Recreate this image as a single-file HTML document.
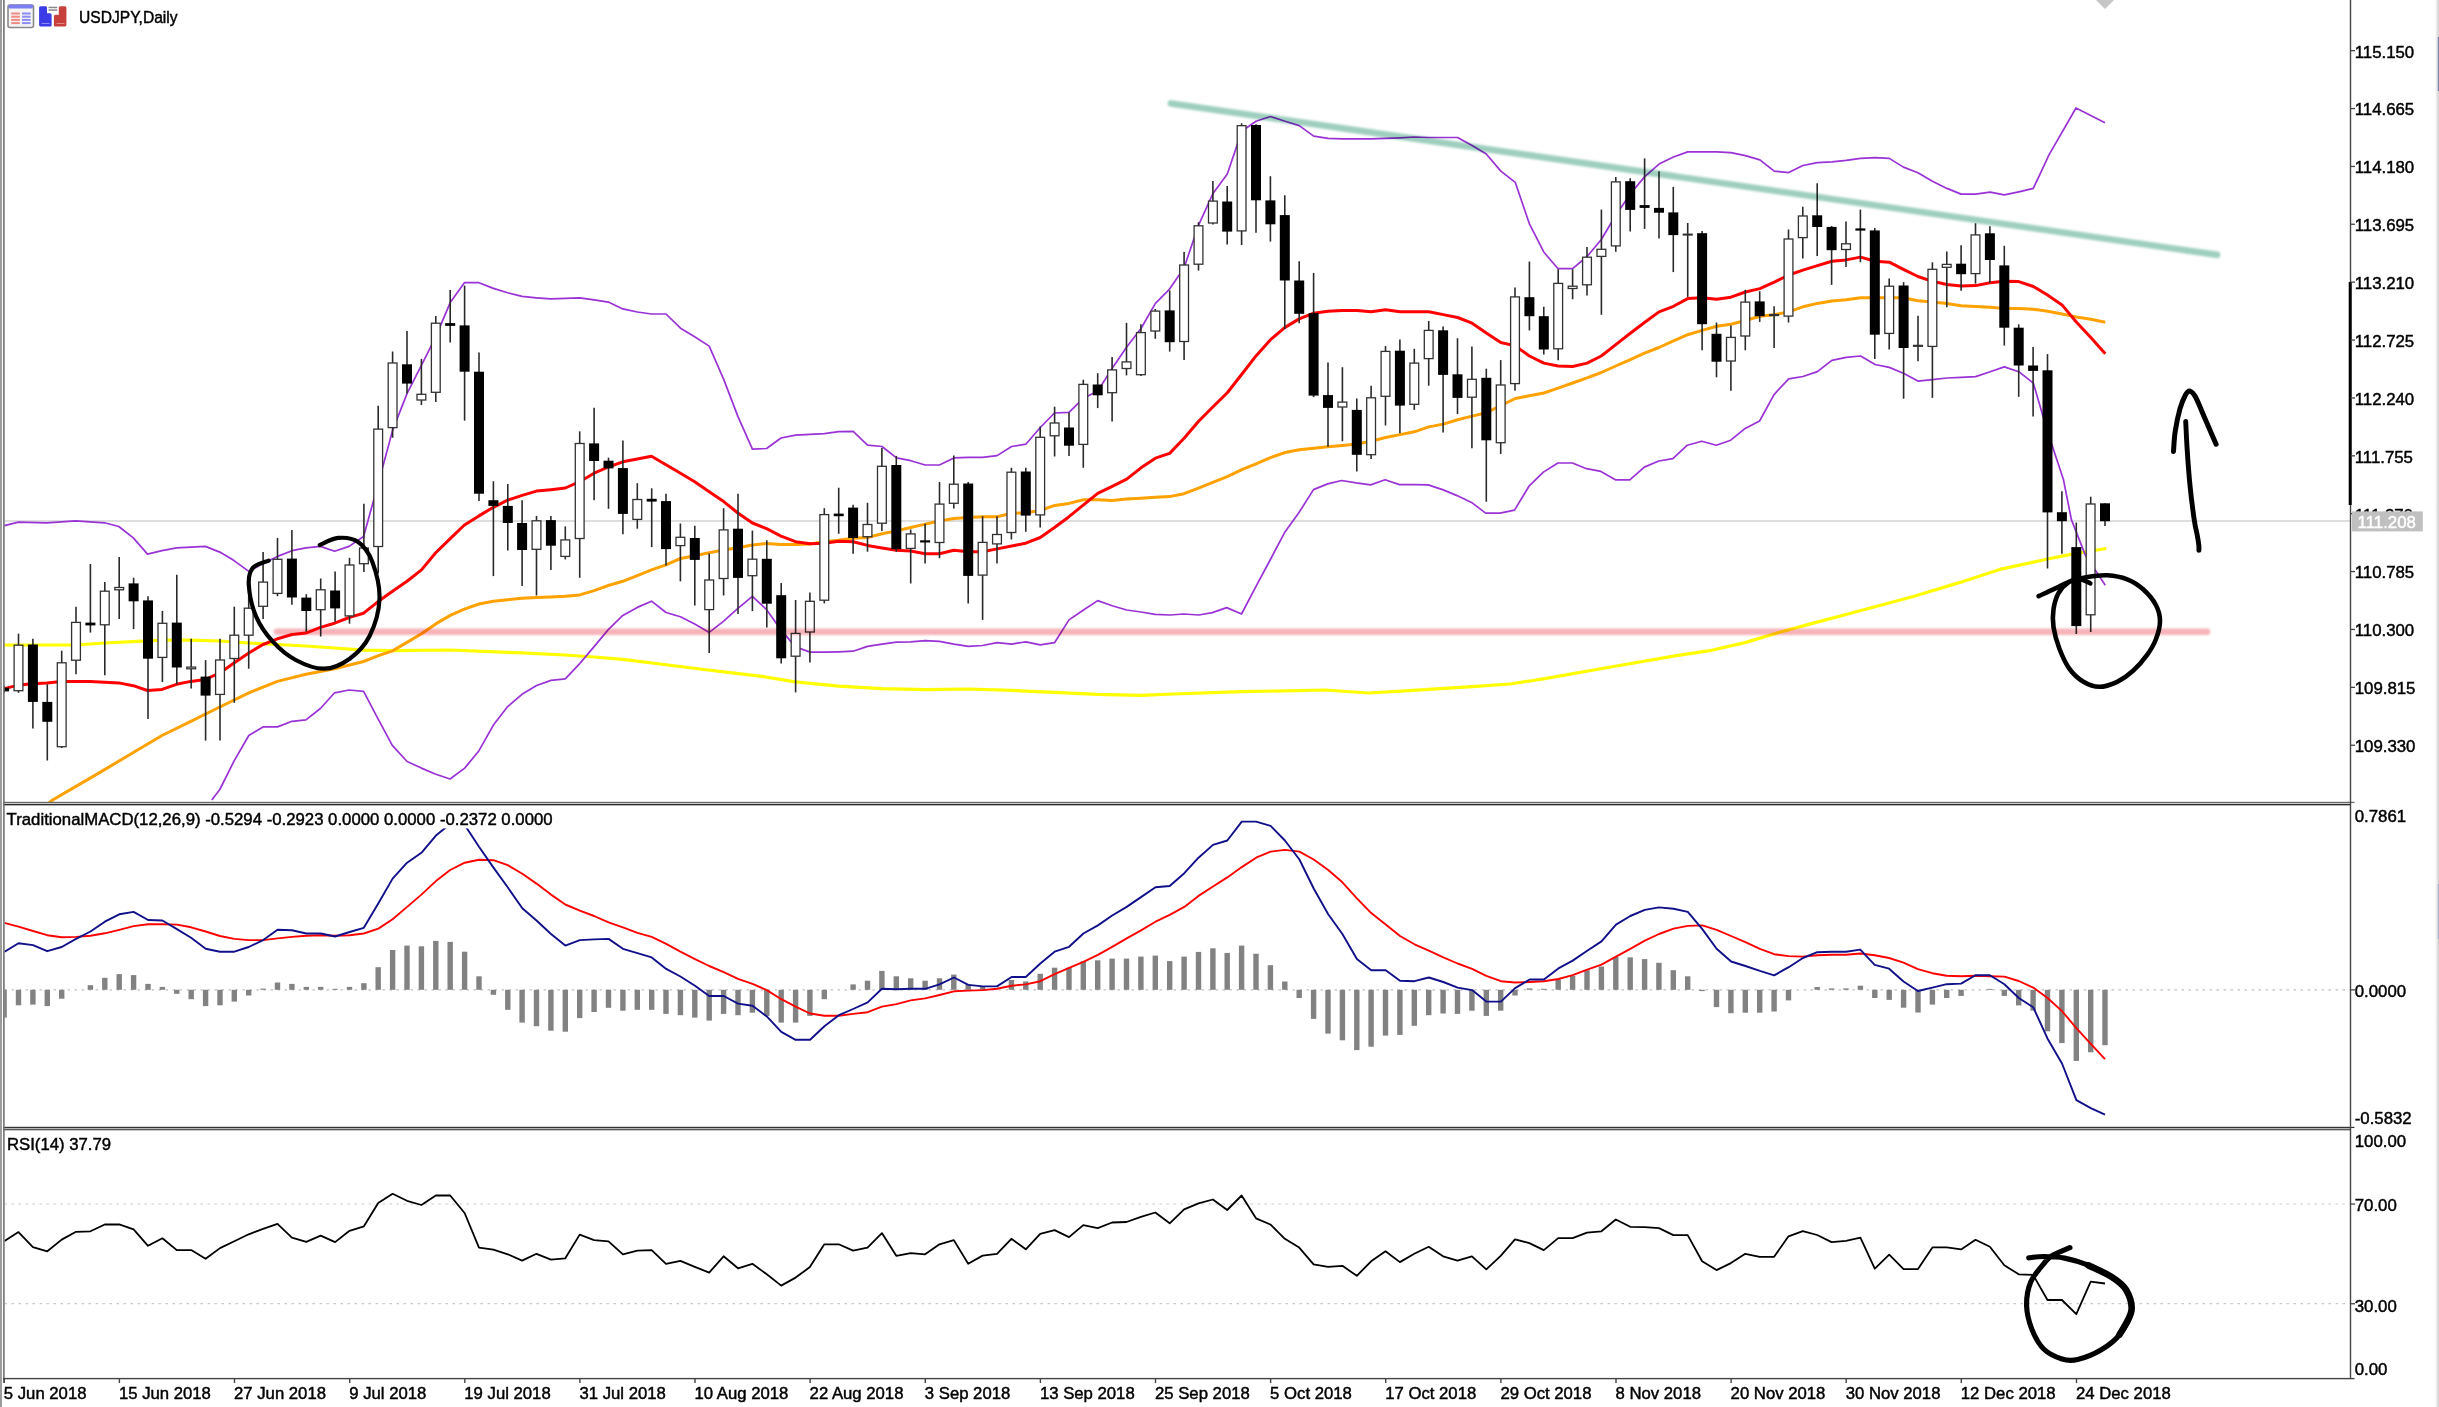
<!DOCTYPE html><html><head><meta charset="utf-8"><title>USDJPY,Daily</title><style>html,body{margin:0;padding:0;background:#fff}body{width:2439px;height:1407px;overflow:hidden;position:relative;font-family:"Liberation Sans",sans-serif}</style></head><body>
<svg width="2439" height="1407" viewBox="0 0 2439 1407" style="position:absolute;left:0;top:0;filter:blur(0.35px);font-family:'Liberation Sans',sans-serif;font-size:16.4px">
<defs><filter id="b1" filterUnits="userSpaceOnUse" x="0" y="0" width="2439" height="1407"><feGaussianBlur stdDeviation="0.9"/></filter><filter id="b0" x="-5%" y="-5%" width="110%" height="110%"><feGaussianBlur stdDeviation="0.45"/></filter></defs>
<rect width="2439" height="1407" fill="#fff"/>
<clipPath id="cm"><rect x="4.5" y="0" width="2346.0" height="802"/></clipPath>
<clipPath id="cd"><rect x="4.5" y="805" width="2346.0" height="322"/></clipPath>
<clipPath id="cr"><rect x="4.5" y="1130" width="2346.0" height="248"/></clipPath>
<rect x="4.5" y="520.4" width="2346.0" height="1.2" fill="#c9c9c9"/>
<g clip-path="url(#cm)">
<polyline points="4.3,645.0 75.6,645.0 104.6,643.0 133.0,641.6 162.0,640.2 190.8,640.2 219.8,641.0 248.8,643.0 277.5,644.5 305.9,646.0 334.6,648.0 363.6,650.2 392.3,650.7 450.0,650.0 522.0,652.9 565.0,655.0 594.0,657.0 622.8,659.4 660.0,664.0 700.0,669.0 730.0,672.6 760.0,676.2 795.5,681.9 838.7,686.2 882.0,688.7 925.2,689.6 968.4,689.0 1011.6,690.4 1054.5,692.4 1097.7,694.4 1141.0,695.3 1173.6,694.0 1240.9,691.7 1325.0,690.0 1368.6,693.0 1409.0,690.6 1476.0,686.3 1510.0,684.0 1543.4,678.9 1610.7,667.0 1678.0,655.3 1711.5,650.3 1745.0,642.6 1778.8,632.5 1812.4,623.4 1862.8,610.0 1913.3,596.5 1960.0,582.4 1999.8,569.4 2047.6,559.0 2076.2,553.4 2106.3,548.5" fill="none" stroke="#ffff00" stroke-width="3.2" stroke-linejoin="round" stroke-linecap="butt" />
<polyline points="38.0,812.0 52.6,800.0 75.6,786.6 104.6,769.6 133.3,752.5 162.0,735.5 190.8,721.3 219.8,707.0 248.8,692.8 277.5,681.4 305.9,674.3 334.6,668.7 363.6,661.5 377.8,655.9 392.5,650.9 407.0,642.4 421.5,633.8 435.7,623.9 450.2,615.4 464.4,609.1 478.9,604.0 493.4,601.2 507.6,599.7 522.1,598.3 536.4,597.5 550.9,596.9 565.4,596.3 579.6,594.9 594.1,590.6 608.3,585.5 622.8,581.3 637.3,575.6 651.5,569.9 666.0,564.8 680.5,558.5 694.7,555.7 709.2,552.8 723.7,550.0 737.9,547.7 752.4,545.1 766.6,543.4 781.0,544.6 795.5,544.6 810.0,544.0 824.3,541.7 838.7,540.3 853.2,538.3 867.5,537.5 882.0,533.8 896.5,530.9 910.7,527.5 925.2,524.1 939.4,521.0 953.9,518.4 968.4,517.6 982.6,516.7 997.1,516.7 1011.6,513.3 1025.8,512.8 1040.3,510.5 1054.5,505.4 1069.0,503.4 1083.5,499.7 1097.7,499.7 1112.2,500.5 1126.7,499.1 1141.0,498.3 1155.4,497.2 1169.6,496.6 1184.1,493.7 1198.6,488.1 1212.8,482.4 1227.3,476.7 1241.8,469.6 1256.0,463.9 1270.5,457.6 1285.0,452.5 1299.2,449.7 1313.7,448.3 1327.9,446.8 1342.4,445.4 1356.9,444.0 1371.1,441.2 1385.6,437.5 1400.1,434.6 1414.3,431.8 1428.8,426.9 1443.3,424.1 1457.6,419.8 1472.1,416.1 1486.3,412.7 1500.8,405.6 1515.3,398.5 1529.4,395.8 1543.9,393.0 1558.1,388.1 1572.6,383.0 1587.1,377.9 1601.3,372.5 1615.8,366.0 1630.3,359.7 1644.5,353.2 1659.0,347.5 1673.5,340.9 1687.7,334.7 1702.2,330.4 1716.7,326.2 1730.9,324.2 1745.4,320.5 1759.9,316.2 1774.2,314.8 1788.7,311.9 1802.9,306.8 1817.4,303.4 1831.9,301.1 1846.1,299.7 1860.6,297.7 1875.1,297.7 1889.3,297.7 1903.4,297.8 1917.9,300.7 1932.4,302.1 1946.9,303.5 1961.1,305.8 1975.6,306.4 1990.1,307.2 2004.3,308.4 2018.8,308.4 2033.3,309.2 2047.5,311.2 2062.0,314.0 2076.3,316.9 2090.8,319.2 2105.3,322.3" fill="none" stroke="#ffa200" stroke-width="3" stroke-linejoin="round" stroke-linecap="butt" />
<polyline points="4.3,525.7 18.5,522.2 46.9,522.8 75.6,520.8 104.6,522.8 118.8,526.5 133.3,537.9 147.5,554.1 162.0,550.7 176.5,547.8 205.3,546.4 219.8,552.1 234.0,560.6 248.8,571.4 263.0,563.5 277.5,556.4 292.0,550.7 305.9,547.8 320.4,546.4 334.6,551.2 349.1,546.4 363.6,536.5 377.8,485.3 392.5,430.6 407.0,393.6 421.5,365.2 435.7,336.8 450.2,302.6 464.4,282.7 478.9,282.7 493.4,288.4 507.6,292.7 522.1,296.4 536.4,297.8 550.9,298.9 565.4,298.4 579.6,297.8 594.1,299.8 608.3,302.1 622.8,308.9 637.3,312.0 651.5,314.0 666.0,314.0 680.5,328.2 694.7,336.8 709.2,346.1 723.7,379.4 737.9,416.4 752.4,449.1 766.6,448.5 781.0,438.0 795.5,435.1 810.0,434.3 824.3,433.7 838.7,431.7 853.2,431.4 867.5,445.1 882.0,446.5 896.5,457.9 910.7,460.7 925.2,465.0 939.4,465.0 953.9,457.9 968.4,457.3 982.6,457.3 997.1,455.6 1011.6,446.5 1025.8,444.2 1040.3,427.5 1054.5,413.0 1069.0,412.4 1083.5,398.2 1097.7,391.1 1112.2,368.3 1126.7,347.0 1141.0,328.5 1155.4,303.3 1169.6,289.1 1184.1,267.7 1198.6,225.1 1212.8,193.8 1227.3,173.9 1241.8,131.3 1256.0,121.3 1270.5,116.5 1285.0,121.3 1299.2,125.6 1313.7,136.1 1327.9,138.4 1342.4,138.9 1356.9,138.9 1371.1,138.9 1385.6,138.4 1400.1,137.8 1414.3,137.0 1428.8,137.5 1443.3,137.5 1457.6,137.5 1472.1,145.5 1486.3,154.0 1500.8,171.1 1515.3,182.4 1529.4,223.8 1543.9,252.2 1558.1,268.7 1572.6,268.7 1587.1,256.5 1601.3,239.5 1615.8,215.3 1630.3,194.0 1644.5,176.9 1659.0,164.1 1673.5,157.0 1687.7,151.9 1702.2,151.9 1716.7,151.9 1730.9,152.7 1745.4,155.6 1759.9,159.9 1774.2,171.2 1788.7,172.6 1802.9,165.5 1817.4,162.7 1831.9,161.8 1846.1,160.4 1860.6,158.4 1875.1,157.6 1889.3,158.4 1903.4,167.1 1917.9,172.7 1932.4,181.3 1946.9,188.4 1961.1,194.1 1975.6,194.1 1990.1,192.1 2004.3,194.9 2018.8,191.8 2033.3,188.4 2049.0,154.9 2076.0,108.0 2105.0,122.8" fill="none" stroke="#9a32d6" stroke-width="1.7" stroke-linejoin="round" stroke-linecap="butt" />
<polyline points="211.8,800.0 219.8,789.5 234.0,761.1 248.8,735.5 263.0,726.9 277.5,726.9 292.0,721.3 305.9,719.8 320.4,708.5 334.6,692.8 349.1,690.0 363.6,691.4 377.8,718.4 392.3,745.4 407.1,761.5 421.4,768.1 435.8,774.3 450.1,779.0 464.7,768.1 479.0,750.7 493.4,725.1 507.7,706.6 522.0,694.3 536.6,685.5 551.0,680.4 565.3,678.9 579.7,663.6 594.1,646.6 608.3,629.6 622.8,615.4 637.3,607.4 651.5,601.2 666.0,612.5 680.5,616.8 694.7,623.9 709.2,632.4 723.7,621.1 737.9,608.3 752.4,596.3 766.6,609.7 781.0,629.9 795.5,646.9 810.0,652.1 824.3,652.1 838.7,651.8 853.2,651.2 867.5,646.4 882.0,644.1 896.5,642.1 910.7,641.8 925.2,640.7 939.4,641.3 953.9,644.1 968.4,646.4 982.6,645.5 997.1,642.7 1011.6,644.1 1025.8,641.8 1040.3,644.9 1054.5,642.7 1069.0,619.9 1083.5,610.0 1097.7,600.6 1112.2,605.7 1126.7,610.0 1141.0,612.0 1155.1,614.3 1170.3,615.0 1183.7,614.0 1198.8,615.0 1212.3,612.6 1226.7,607.6 1241.5,614.0 1256.0,586.4 1270.4,559.5 1284.6,532.6 1299.0,512.5 1313.5,489.6 1327.6,483.9 1341.7,480.5 1356.2,482.9 1370.6,484.9 1385.1,479.8 1399.5,484.6 1414.0,484.6 1428.1,484.9 1442.6,489.6 1457.0,495.6 1471.5,502.4 1485.6,513.1 1500.1,513.1 1514.5,510.1 1529.0,486.2 1543.4,472.1 1557.9,463.0 1572.4,463.0 1586.5,468.7 1600.9,471.4 1615.4,479.8 1629.8,479.8 1644.3,467.1 1658.8,461.0 1672.9,458.7 1687.3,445.2 1701.8,441.2 1716.3,445.2 1730.7,440.2 1745.2,428.4 1759.6,421.0 1774.2,394.4 1788.7,378.8 1802.9,376.5 1817.4,371.6 1831.9,360.3 1846.1,357.4 1860.6,356.0 1875.1,364.5 1889.3,367.4 1903.4,373.2 1917.9,381.1 1932.4,379.7 1946.9,378.0 1961.1,377.4 1975.6,376.6 1990.1,371.7 2004.3,366.9 2018.8,371.7 2033.3,383.1 2047.5,431.4 2063.5,479.8 2071.4,519.6 2085.4,555.4 2095.3,570.3 2105.3,585.3" fill="none" stroke="#9a32d6" stroke-width="1.7" stroke-linejoin="round" stroke-linecap="butt" />
<polyline points="4.3,688.6 18.5,685.1 32.7,683.7 46.9,682.9 61.4,681.4 75.6,681.4 90.1,681.4 104.6,682.3 118.8,682.9 133.3,685.7 147.5,690.5 162.0,689.4 176.5,684.3 190.8,681.4 205.3,679.5 219.8,672.9 234.0,663.0 248.8,653.0 263.0,644.5 277.5,638.8 292.0,634.5 305.9,633.1 320.4,627.4 334.6,623.2 349.1,617.5 363.6,613.2 377.8,601.8 392.5,591.2 407.0,581.3 421.5,569.9 435.7,552.8 450.2,538.6 464.4,525.0 478.9,515.9 493.4,507.3 507.6,500.2 522.1,495.4 536.4,491.1 550.9,489.7 565.4,488.0 579.6,481.7 594.1,473.2 608.3,467.0 622.8,461.8 637.3,459.0 651.5,456.2 666.0,464.7 680.5,473.2 694.7,481.7 709.2,491.7 723.7,501.6 737.9,513.0 752.4,523.0 766.6,528.7 781.0,536.1 795.5,541.7 810.0,543.7 824.3,543.2 838.7,541.2 853.2,541.7 867.5,545.4 882.0,548.0 896.5,550.3 910.7,551.1 925.2,553.7 939.4,553.7 953.9,550.3 968.4,551.7 982.6,551.7 997.1,548.9 1011.6,546.0 1025.8,543.2 1040.3,537.5 1054.5,527.5 1069.0,516.7 1083.5,504.8 1097.7,493.4 1112.2,486.3 1126.7,479.2 1141.0,467.8 1155.4,458.2 1169.6,453.4 1184.1,438.3 1198.6,421.3 1212.8,407.0 1227.3,392.8 1241.8,374.3 1256.0,355.9 1270.5,339.7 1285.0,327.4 1299.2,318.9 1313.7,313.2 1327.9,311.2 1342.4,310.4 1356.9,310.4 1371.1,311.8 1385.6,309.8 1400.1,311.8 1414.3,311.8 1428.8,311.8 1443.3,314.6 1457.6,317.5 1472.1,323.2 1486.3,333.1 1500.8,342.5 1515.3,345.9 1529.4,356.0 1543.9,363.1 1558.1,366.0 1572.6,366.5 1587.1,363.1 1601.3,356.0 1615.8,344.6 1630.3,333.3 1644.5,322.5 1659.0,311.9 1673.5,306.3 1687.7,298.6 1702.2,297.7 1716.7,299.2 1730.9,297.2 1745.4,292.0 1759.9,288.6 1774.2,282.1 1788.7,275.0 1802.9,270.2 1817.4,265.6 1831.9,261.3 1846.1,259.9 1860.6,257.1 1875.1,261.3 1889.3,262.2 1903.4,269.4 1917.9,276.5 1932.4,281.3 1946.9,284.5 1961.1,285.9 1975.6,285.6 1990.1,282.8 2004.3,281.3 2018.8,281.6 2033.3,286.5 2047.5,295.0 2062.0,304.9 2076.3,322.0 2090.8,337.6 2105.3,353.8" fill="none" stroke="#ff0000" stroke-width="3" stroke-linejoin="round" stroke-linecap="butt" />
<g filter="url(#b0)">
<line x1="4.1" y1="685.7" x2="4.1" y2="692.8" stroke="#2a2a2a" stroke-width="1.6"/>
<rect x="-0.9" y="687.7" width="10" height="3.7" fill="#000"/>
<line x1="18.5" y1="633.7" x2="18.5" y2="692.8" stroke="#2a2a2a" stroke-width="1.6"/>
<rect x="14.1" y="645.2" width="8.8" height="45.5" fill="#fff" stroke="#333" stroke-width="1.3"/>
<line x1="32.9" y1="638.8" x2="32.9" y2="728.4" stroke="#2a2a2a" stroke-width="1.6"/>
<rect x="27.9" y="644.5" width="10" height="57.4" fill="#000"/>
<line x1="47.3" y1="684.3" x2="47.3" y2="760.5" stroke="#2a2a2a" stroke-width="1.6"/>
<rect x="42.3" y="701.9" width="10" height="19.9" fill="#000"/>
<line x1="61.7" y1="650.7" x2="61.7" y2="748.0" stroke="#2a2a2a" stroke-width="1.6"/>
<rect x="57.3" y="662.8" width="8.8" height="83.9" fill="#fff" stroke="#333" stroke-width="1.3"/>
<line x1="76.0" y1="606.7" x2="76.0" y2="674.3" stroke="#2a2a2a" stroke-width="1.6"/>
<rect x="71.6" y="622.4" width="8.8" height="37.8" fill="#fff" stroke="#333" stroke-width="1.3"/>
<line x1="90.4" y1="564.0" x2="90.4" y2="632.6" stroke="#2a2a2a" stroke-width="1.6"/>
<rect x="85.4" y="622.6" width="10" height="2.8" fill="#000"/>
<line x1="104.8" y1="581.9" x2="104.8" y2="675.2" stroke="#2a2a2a" stroke-width="1.6"/>
<rect x="100.4" y="591.2" width="8.8" height="33.6" fill="#fff" stroke="#333" stroke-width="1.3"/>
<line x1="119.2" y1="556.9" x2="119.2" y2="618.9" stroke="#2a2a2a" stroke-width="1.6"/>
<rect x="114.8" y="587.5" width="8.8" height="2.3" fill="#fff" stroke="#333" stroke-width="1.3"/>
<line x1="133.6" y1="577.7" x2="133.6" y2="629.1" stroke="#2a2a2a" stroke-width="1.6"/>
<rect x="128.6" y="583.4" width="10" height="17.9" fill="#000"/>
<line x1="148.0" y1="596.2" x2="148.0" y2="719.0" stroke="#2a2a2a" stroke-width="1.6"/>
<rect x="143.0" y="600.4" width="10" height="58.3" fill="#000"/>
<line x1="162.4" y1="610.9" x2="162.4" y2="682.0" stroke="#2a2a2a" stroke-width="1.6"/>
<rect x="158.0" y="623.3" width="8.8" height="34.1" fill="#fff" stroke="#333" stroke-width="1.3"/>
<line x1="176.8" y1="574.8" x2="176.8" y2="684.3" stroke="#2a2a2a" stroke-width="1.6"/>
<rect x="171.8" y="622.6" width="10" height="44.9" fill="#000"/>
<line x1="191.2" y1="638.8" x2="191.2" y2="688.6" stroke="#2a2a2a" stroke-width="1.6"/>
<rect x="186.8" y="667.1" width="8.8" height="1.7" fill="#fff" stroke="#333" stroke-width="1.3"/>
<line x1="205.6" y1="660.1" x2="205.6" y2="740.6" stroke="#2a2a2a" stroke-width="1.6"/>
<rect x="200.6" y="676.6" width="10" height="19.0" fill="#000"/>
<line x1="220.0" y1="638.8" x2="220.0" y2="740.6" stroke="#2a2a2a" stroke-width="1.6"/>
<rect x="215.6" y="660.0" width="8.8" height="34.4" fill="#fff" stroke="#333" stroke-width="1.3"/>
<line x1="234.3" y1="606.7" x2="234.3" y2="702.8" stroke="#2a2a2a" stroke-width="1.6"/>
<rect x="229.9" y="635.2" width="8.8" height="23.3" fill="#fff" stroke="#333" stroke-width="1.3"/>
<line x1="248.7" y1="596.2" x2="248.7" y2="668.7" stroke="#2a2a2a" stroke-width="1.6"/>
<rect x="244.3" y="608.2" width="8.8" height="27.0" fill="#fff" stroke="#333" stroke-width="1.3"/>
<line x1="263.1" y1="552.1" x2="263.1" y2="618.9" stroke="#2a2a2a" stroke-width="1.6"/>
<rect x="258.7" y="582.1" width="8.8" height="24.2" fill="#fff" stroke="#333" stroke-width="1.3"/>
<line x1="277.5" y1="537.9" x2="277.5" y2="596.2" stroke="#2a2a2a" stroke-width="1.6"/>
<rect x="273.1" y="559.3" width="8.8" height="34.1" fill="#fff" stroke="#333" stroke-width="1.3"/>
<line x1="291.9" y1="529.9" x2="291.9" y2="604.7" stroke="#2a2a2a" stroke-width="1.6"/>
<rect x="286.9" y="558.6" width="10" height="38.9" fill="#000"/>
<line x1="306.3" y1="594.2" x2="306.3" y2="631.7" stroke="#2a2a2a" stroke-width="1.6"/>
<rect x="301.3" y="597.6" width="10" height="13.4" fill="#000"/>
<line x1="320.7" y1="578.5" x2="320.7" y2="636.5" stroke="#2a2a2a" stroke-width="1.6"/>
<rect x="316.3" y="589.8" width="8.8" height="19.9" fill="#fff" stroke="#333" stroke-width="1.3"/>
<line x1="335.1" y1="571.4" x2="335.1" y2="621.7" stroke="#2a2a2a" stroke-width="1.6"/>
<rect x="330.1" y="590.5" width="10" height="17.9" fill="#000"/>
<line x1="349.5" y1="557.8" x2="349.5" y2="623.7" stroke="#2a2a2a" stroke-width="1.6"/>
<rect x="345.1" y="565.0" width="8.8" height="50.9" fill="#fff" stroke="#333" stroke-width="1.3"/>
<line x1="363.9" y1="503.8" x2="363.9" y2="572.0" stroke="#2a2a2a" stroke-width="1.6"/>
<rect x="359.5" y="548.0" width="8.8" height="15.7" fill="#fff" stroke="#333" stroke-width="1.3"/>
<line x1="378.2" y1="405.7" x2="378.2" y2="573.4" stroke="#2a2a2a" stroke-width="1.6"/>
<rect x="373.8" y="429.1" width="8.8" height="117.4" fill="#fff" stroke="#333" stroke-width="1.3"/>
<line x1="392.6" y1="351.5" x2="392.6" y2="437.7" stroke="#2a2a2a" stroke-width="1.6"/>
<rect x="388.2" y="363.0" width="8.8" height="64.6" fill="#fff" stroke="#333" stroke-width="1.3"/>
<line x1="407.0" y1="331.1" x2="407.0" y2="393.6" stroke="#2a2a2a" stroke-width="1.6"/>
<rect x="402.0" y="364.3" width="10" height="19.3" fill="#000"/>
<line x1="421.4" y1="358.9" x2="421.4" y2="405.0" stroke="#2a2a2a" stroke-width="1.6"/>
<rect x="417.0" y="394.3" width="8.8" height="5.7" fill="#fff" stroke="#333" stroke-width="1.3"/>
<line x1="435.8" y1="316.0" x2="435.8" y2="402.1" stroke="#2a2a2a" stroke-width="1.6"/>
<rect x="431.4" y="323.2" width="8.8" height="69.1" fill="#fff" stroke="#333" stroke-width="1.3"/>
<line x1="450.2" y1="289.9" x2="450.2" y2="342.4" stroke="#2a2a2a" stroke-width="1.6"/>
<rect x="445.2" y="323.1" width="10" height="2.8" fill="#000"/>
<line x1="464.6" y1="285.6" x2="464.6" y2="420.6" stroke="#2a2a2a" stroke-width="1.6"/>
<rect x="459.6" y="325.4" width="10" height="46.3" fill="#000"/>
<line x1="479.0" y1="352.4" x2="479.0" y2="501.1" stroke="#2a2a2a" stroke-width="1.6"/>
<rect x="474.0" y="371.7" width="10" height="122.0" fill="#000"/>
<line x1="493.4" y1="481.2" x2="493.4" y2="576.1" stroke="#2a2a2a" stroke-width="1.6"/>
<rect x="488.4" y="500.2" width="10" height="5.7" fill="#000"/>
<line x1="507.8" y1="484.0" x2="507.8" y2="550.5" stroke="#2a2a2a" stroke-width="1.6"/>
<rect x="502.8" y="505.9" width="10" height="17.1" fill="#000"/>
<line x1="522.1" y1="500.2" x2="522.1" y2="586.1" stroke="#2a2a2a" stroke-width="1.6"/>
<rect x="517.1" y="523.0" width="10" height="27.0" fill="#000"/>
<line x1="536.5" y1="515.9" x2="536.5" y2="595.5" stroke="#2a2a2a" stroke-width="1.6"/>
<rect x="532.1" y="520.8" width="8.8" height="28.5" fill="#fff" stroke="#333" stroke-width="1.3"/>
<line x1="550.9" y1="515.9" x2="550.9" y2="569.9" stroke="#2a2a2a" stroke-width="1.6"/>
<rect x="545.9" y="520.1" width="10" height="25.6" fill="#000"/>
<line x1="565.3" y1="526.4" x2="565.3" y2="559.4" stroke="#2a2a2a" stroke-width="1.6"/>
<rect x="560.9" y="539.9" width="8.8" height="16.5" fill="#fff" stroke="#333" stroke-width="1.3"/>
<line x1="579.7" y1="431.4" x2="579.7" y2="577.8" stroke="#2a2a2a" stroke-width="1.6"/>
<rect x="575.3" y="443.5" width="8.8" height="95.0" fill="#fff" stroke="#333" stroke-width="1.3"/>
<line x1="594.1" y1="407.8" x2="594.1" y2="500.2" stroke="#2a2a2a" stroke-width="1.6"/>
<rect x="589.1" y="443.4" width="10" height="17.6" fill="#000"/>
<line x1="608.5" y1="457.6" x2="608.5" y2="508.8" stroke="#2a2a2a" stroke-width="1.6"/>
<rect x="603.5" y="460.7" width="10" height="7.7" fill="#000"/>
<line x1="622.9" y1="440.5" x2="622.9" y2="534.3" stroke="#2a2a2a" stroke-width="1.6"/>
<rect x="617.9" y="468.1" width="10" height="45.8" fill="#000"/>
<line x1="637.3" y1="483.2" x2="637.3" y2="528.7" stroke="#2a2a2a" stroke-width="1.6"/>
<rect x="632.9" y="499.5" width="8.8" height="19.9" fill="#fff" stroke="#333" stroke-width="1.3"/>
<line x1="651.7" y1="488.3" x2="651.7" y2="547.1" stroke="#2a2a2a" stroke-width="1.6"/>
<rect x="646.7" y="498.8" width="10" height="2.8" fill="#000"/>
<line x1="666.0" y1="493.7" x2="666.0" y2="565.6" stroke="#2a2a2a" stroke-width="1.6"/>
<rect x="661.0" y="501.1" width="10" height="48.0" fill="#000"/>
<line x1="680.4" y1="523.5" x2="680.4" y2="581.3" stroke="#2a2a2a" stroke-width="1.6"/>
<rect x="676.0" y="537.3" width="8.8" height="8.3" fill="#fff" stroke="#333" stroke-width="1.3"/>
<line x1="694.8" y1="525.8" x2="694.8" y2="605.4" stroke="#2a2a2a" stroke-width="1.6"/>
<rect x="689.8" y="538.0" width="10" height="21.9" fill="#000"/>
<line x1="709.2" y1="553.4" x2="709.2" y2="652.9" stroke="#2a2a2a" stroke-width="1.6"/>
<rect x="704.8" y="580.0" width="8.8" height="29.6" fill="#fff" stroke="#333" stroke-width="1.3"/>
<line x1="723.6" y1="508.2" x2="723.6" y2="595.5" stroke="#2a2a2a" stroke-width="1.6"/>
<rect x="719.2" y="529.9" width="8.8" height="48.6" fill="#fff" stroke="#333" stroke-width="1.3"/>
<line x1="738.0" y1="493.7" x2="738.0" y2="613.9" stroke="#2a2a2a" stroke-width="1.6"/>
<rect x="733.0" y="528.7" width="10" height="49.2" fill="#000"/>
<line x1="752.4" y1="530.6" x2="752.4" y2="611.1" stroke="#2a2a2a" stroke-width="1.6"/>
<rect x="748.0" y="559.2" width="8.8" height="16.5" fill="#fff" stroke="#333" stroke-width="1.3"/>
<line x1="766.8" y1="540.3" x2="766.8" y2="627.6" stroke="#2a2a2a" stroke-width="1.6"/>
<rect x="761.8" y="558.8" width="10" height="44.9" fill="#000"/>
<line x1="781.2" y1="583.0" x2="781.2" y2="663.4" stroke="#2a2a2a" stroke-width="1.6"/>
<rect x="776.2" y="595.2" width="10" height="63.1" fill="#000"/>
<line x1="795.6" y1="600.0" x2="795.6" y2="692.4" stroke="#2a2a2a" stroke-width="1.6"/>
<rect x="791.2" y="633.4" width="8.8" height="22.8" fill="#fff" stroke="#333" stroke-width="1.3"/>
<line x1="809.9" y1="592.4" x2="809.9" y2="662.6" stroke="#2a2a2a" stroke-width="1.6"/>
<rect x="805.5" y="601.3" width="8.8" height="30.7" fill="#fff" stroke="#333" stroke-width="1.3"/>
<line x1="824.3" y1="508.2" x2="824.3" y2="603.4" stroke="#2a2a2a" stroke-width="1.6"/>
<rect x="819.9" y="514.6" width="8.8" height="85.6" fill="#fff" stroke="#333" stroke-width="1.3"/>
<line x1="838.7" y1="487.7" x2="838.7" y2="533.8" stroke="#2a2a2a" stroke-width="1.6"/>
<rect x="833.7" y="513.6" width="10" height="2.6" fill="#000"/>
<line x1="853.1" y1="504.8" x2="853.1" y2="553.7" stroke="#2a2a2a" stroke-width="1.6"/>
<rect x="848.1" y="507.6" width="10" height="30.4" fill="#000"/>
<line x1="867.5" y1="502.8" x2="867.5" y2="551.7" stroke="#2a2a2a" stroke-width="1.6"/>
<rect x="863.1" y="524.5" width="8.8" height="12.2" fill="#fff" stroke="#333" stroke-width="1.3"/>
<line x1="881.9" y1="447.9" x2="881.9" y2="530.9" stroke="#2a2a2a" stroke-width="1.6"/>
<rect x="877.5" y="466.3" width="8.8" height="56.9" fill="#fff" stroke="#333" stroke-width="1.3"/>
<line x1="896.3" y1="455.9" x2="896.3" y2="551.7" stroke="#2a2a2a" stroke-width="1.6"/>
<rect x="891.3" y="465.0" width="10" height="84.2" fill="#000"/>
<line x1="910.7" y1="529.5" x2="910.7" y2="583.5" stroke="#2a2a2a" stroke-width="1.6"/>
<rect x="906.3" y="533.9" width="8.8" height="14.5" fill="#fff" stroke="#333" stroke-width="1.3"/>
<line x1="925.1" y1="523.8" x2="925.1" y2="563.6" stroke="#2a2a2a" stroke-width="1.6"/>
<rect x="920.1" y="540.3" width="10" height="2.2" fill="#000"/>
<line x1="939.5" y1="482.0" x2="939.5" y2="558.2" stroke="#2a2a2a" stroke-width="1.6"/>
<rect x="935.1" y="504.1" width="8.8" height="38.4" fill="#fff" stroke="#333" stroke-width="1.3"/>
<line x1="953.8" y1="455.6" x2="953.8" y2="508.5" stroke="#2a2a2a" stroke-width="1.6"/>
<rect x="949.4" y="484.2" width="8.8" height="19.1" fill="#fff" stroke="#333" stroke-width="1.3"/>
<line x1="968.2" y1="482.0" x2="968.2" y2="603.4" stroke="#2a2a2a" stroke-width="1.6"/>
<rect x="963.2" y="483.5" width="10" height="92.4" fill="#000"/>
<line x1="982.6" y1="516.2" x2="982.6" y2="619.9" stroke="#2a2a2a" stroke-width="1.6"/>
<rect x="978.2" y="542.4" width="8.8" height="32.7" fill="#fff" stroke="#333" stroke-width="1.3"/>
<line x1="997.0" y1="516.2" x2="997.0" y2="563.6" stroke="#2a2a2a" stroke-width="1.6"/>
<rect x="992.6" y="534.5" width="8.8" height="9.4" fill="#fff" stroke="#333" stroke-width="1.3"/>
<line x1="1011.4" y1="467.8" x2="1011.4" y2="539.5" stroke="#2a2a2a" stroke-width="1.6"/>
<rect x="1007.0" y="472.2" width="8.8" height="60.3" fill="#fff" stroke="#333" stroke-width="1.3"/>
<line x1="1025.8" y1="467.8" x2="1025.8" y2="531.8" stroke="#2a2a2a" stroke-width="1.6"/>
<rect x="1020.8" y="471.5" width="10" height="44.1" fill="#000"/>
<line x1="1040.2" y1="426.6" x2="1040.2" y2="527.5" stroke="#2a2a2a" stroke-width="1.6"/>
<rect x="1035.8" y="437.3" width="8.8" height="77.6" fill="#fff" stroke="#333" stroke-width="1.3"/>
<line x1="1054.6" y1="406.7" x2="1054.6" y2="456.5" stroke="#2a2a2a" stroke-width="1.6"/>
<rect x="1050.2" y="423.0" width="8.8" height="12.8" fill="#fff" stroke="#333" stroke-width="1.3"/>
<line x1="1069.0" y1="412.4" x2="1069.0" y2="455.9" stroke="#2a2a2a" stroke-width="1.6"/>
<rect x="1064.0" y="427.5" width="10" height="18.2" fill="#000"/>
<line x1="1083.3" y1="379.7" x2="1083.3" y2="467.8" stroke="#2a2a2a" stroke-width="1.6"/>
<rect x="1078.9" y="384.4" width="8.8" height="60.0" fill="#fff" stroke="#333" stroke-width="1.3"/>
<line x1="1097.7" y1="373.2" x2="1097.7" y2="408.1" stroke="#2a2a2a" stroke-width="1.6"/>
<rect x="1092.7" y="384.5" width="10" height="10.8" fill="#000"/>
<line x1="1112.1" y1="357.0" x2="1112.1" y2="421.5" stroke="#2a2a2a" stroke-width="1.6"/>
<rect x="1107.7" y="369.9" width="8.8" height="22.8" fill="#fff" stroke="#333" stroke-width="1.3"/>
<line x1="1126.5" y1="322.8" x2="1126.5" y2="375.4" stroke="#2a2a2a" stroke-width="1.6"/>
<rect x="1122.1" y="361.9" width="8.8" height="6.6" fill="#fff" stroke="#333" stroke-width="1.3"/>
<line x1="1140.9" y1="324.3" x2="1140.9" y2="376.0" stroke="#2a2a2a" stroke-width="1.6"/>
<rect x="1136.5" y="332.6" width="8.8" height="42.1" fill="#fff" stroke="#333" stroke-width="1.3"/>
<line x1="1155.3" y1="309.0" x2="1155.3" y2="338.8" stroke="#2a2a2a" stroke-width="1.6"/>
<rect x="1150.9" y="311.1" width="8.8" height="19.9" fill="#fff" stroke="#333" stroke-width="1.3"/>
<line x1="1169.7" y1="290.5" x2="1169.7" y2="351.6" stroke="#2a2a2a" stroke-width="1.6"/>
<rect x="1164.7" y="310.4" width="10" height="31.8" fill="#000"/>
<line x1="1184.1" y1="252.1" x2="1184.1" y2="360.1" stroke="#2a2a2a" stroke-width="1.6"/>
<rect x="1179.7" y="265.0" width="8.8" height="76.5" fill="#fff" stroke="#333" stroke-width="1.3"/>
<line x1="1198.5" y1="222.2" x2="1198.5" y2="270.6" stroke="#2a2a2a" stroke-width="1.6"/>
<rect x="1194.1" y="225.8" width="8.8" height="38.4" fill="#fff" stroke="#333" stroke-width="1.3"/>
<line x1="1212.9" y1="181.0" x2="1212.9" y2="224.5" stroke="#2a2a2a" stroke-width="1.6"/>
<rect x="1208.5" y="201.1" width="8.8" height="21.9" fill="#fff" stroke="#333" stroke-width="1.3"/>
<line x1="1227.2" y1="186.1" x2="1227.2" y2="244.4" stroke="#2a2a2a" stroke-width="1.6"/>
<rect x="1222.2" y="201.5" width="10" height="30.1" fill="#000"/>
<line x1="1241.6" y1="123.3" x2="1241.6" y2="245.0" stroke="#2a2a2a" stroke-width="1.6"/>
<rect x="1237.2" y="125.7" width="8.8" height="105.2" fill="#fff" stroke="#333" stroke-width="1.3"/>
<line x1="1256.0" y1="124.2" x2="1256.0" y2="232.8" stroke="#2a2a2a" stroke-width="1.6"/>
<rect x="1251.0" y="125.0" width="10" height="75.3" fill="#000"/>
<line x1="1270.4" y1="176.2" x2="1270.4" y2="241.6" stroke="#2a2a2a" stroke-width="1.6"/>
<rect x="1265.4" y="200.4" width="10" height="23.9" fill="#000"/>
<line x1="1284.8" y1="195.2" x2="1284.8" y2="328.9" stroke="#2a2a2a" stroke-width="1.6"/>
<rect x="1279.8" y="215.1" width="10" height="65.4" fill="#000"/>
<line x1="1299.2" y1="261.2" x2="1299.2" y2="323.2" stroke="#2a2a2a" stroke-width="1.6"/>
<rect x="1294.2" y="280.5" width="10" height="33.3" fill="#000"/>
<line x1="1313.6" y1="272.9" x2="1313.6" y2="397.1" stroke="#2a2a2a" stroke-width="1.6"/>
<rect x="1308.6" y="313.2" width="10" height="82.4" fill="#000"/>
<line x1="1328.0" y1="362.4" x2="1328.0" y2="446.8" stroke="#2a2a2a" stroke-width="1.6"/>
<rect x="1323.0" y="395.1" width="10" height="12.8" fill="#000"/>
<line x1="1342.4" y1="367.2" x2="1342.4" y2="441.2" stroke="#2a2a2a" stroke-width="1.6"/>
<rect x="1338.0" y="402.1" width="8.8" height="4.9" fill="#fff" stroke="#333" stroke-width="1.3"/>
<line x1="1356.8" y1="398.5" x2="1356.8" y2="471.6" stroke="#2a2a2a" stroke-width="1.6"/>
<rect x="1351.8" y="409.9" width="10" height="44.9" fill="#000"/>
<line x1="1371.1" y1="385.7" x2="1371.1" y2="459.1" stroke="#2a2a2a" stroke-width="1.6"/>
<rect x="1366.7" y="397.8" width="8.8" height="56.9" fill="#fff" stroke="#333" stroke-width="1.3"/>
<line x1="1385.5" y1="345.9" x2="1385.5" y2="425.5" stroke="#2a2a2a" stroke-width="1.6"/>
<rect x="1381.1" y="351.4" width="8.8" height="44.9" fill="#fff" stroke="#333" stroke-width="1.3"/>
<line x1="1399.9" y1="339.4" x2="1399.9" y2="433.2" stroke="#2a2a2a" stroke-width="1.6"/>
<rect x="1394.9" y="350.7" width="10" height="54.9" fill="#000"/>
<line x1="1414.3" y1="348.8" x2="1414.3" y2="409.9" stroke="#2a2a2a" stroke-width="1.6"/>
<rect x="1409.9" y="363.1" width="8.8" height="41.2" fill="#fff" stroke="#333" stroke-width="1.3"/>
<line x1="1428.7" y1="320.9" x2="1428.7" y2="385.7" stroke="#2a2a2a" stroke-width="1.6"/>
<rect x="1424.3" y="330.4" width="8.8" height="28.2" fill="#fff" stroke="#333" stroke-width="1.3"/>
<line x1="1443.1" y1="326.6" x2="1443.1" y2="432.6" stroke="#2a2a2a" stroke-width="1.6"/>
<rect x="1438.1" y="330.3" width="10" height="44.6" fill="#000"/>
<line x1="1457.5" y1="338.2" x2="1457.5" y2="414.1" stroke="#2a2a2a" stroke-width="1.6"/>
<rect x="1452.5" y="374.3" width="10" height="23.6" fill="#000"/>
<line x1="1471.9" y1="346.5" x2="1471.9" y2="448.3" stroke="#2a2a2a" stroke-width="1.6"/>
<rect x="1467.5" y="379.3" width="8.8" height="17.9" fill="#fff" stroke="#333" stroke-width="1.3"/>
<line x1="1486.3" y1="368.7" x2="1486.3" y2="501.7" stroke="#2a2a2a" stroke-width="1.6"/>
<rect x="1481.3" y="377.8" width="10" height="62.5" fill="#000"/>
<line x1="1500.7" y1="360.1" x2="1500.7" y2="453.9" stroke="#2a2a2a" stroke-width="1.6"/>
<rect x="1496.3" y="385.0" width="8.8" height="57.7" fill="#fff" stroke="#333" stroke-width="1.3"/>
<line x1="1515.0" y1="287.6" x2="1515.0" y2="390.8" stroke="#2a2a2a" stroke-width="1.6"/>
<rect x="1510.6" y="296.9" width="8.8" height="86.7" fill="#fff" stroke="#333" stroke-width="1.3"/>
<line x1="1529.4" y1="261.6" x2="1529.4" y2="330.4" stroke="#2a2a2a" stroke-width="1.6"/>
<rect x="1524.4" y="297.2" width="10" height="19.0" fill="#000"/>
<line x1="1543.8" y1="306.8" x2="1543.8" y2="354.6" stroke="#2a2a2a" stroke-width="1.6"/>
<rect x="1538.8" y="316.2" width="10" height="33.3" fill="#000"/>
<line x1="1558.2" y1="269.3" x2="1558.2" y2="360.3" stroke="#2a2a2a" stroke-width="1.6"/>
<rect x="1553.8" y="283.4" width="8.8" height="65.4" fill="#fff" stroke="#333" stroke-width="1.3"/>
<line x1="1572.6" y1="269.3" x2="1572.6" y2="299.2" stroke="#2a2a2a" stroke-width="1.6"/>
<rect x="1568.2" y="286.2" width="8.8" height="2.3" fill="#fff" stroke="#333" stroke-width="1.3"/>
<line x1="1587.0" y1="247.1" x2="1587.0" y2="295.5" stroke="#2a2a2a" stroke-width="1.6"/>
<rect x="1582.6" y="257.2" width="8.8" height="27.6" fill="#fff" stroke="#333" stroke-width="1.3"/>
<line x1="1601.4" y1="209.6" x2="1601.4" y2="314.8" stroke="#2a2a2a" stroke-width="1.6"/>
<rect x="1597.0" y="249.3" width="8.8" height="7.1" fill="#fff" stroke="#333" stroke-width="1.3"/>
<line x1="1615.8" y1="176.9" x2="1615.8" y2="251.7" stroke="#2a2a2a" stroke-width="1.6"/>
<rect x="1611.4" y="181.9" width="8.8" height="64.0" fill="#fff" stroke="#333" stroke-width="1.3"/>
<line x1="1630.2" y1="178.3" x2="1630.2" y2="231.5" stroke="#2a2a2a" stroke-width="1.6"/>
<rect x="1625.2" y="181.2" width="10" height="28.7" fill="#000"/>
<line x1="1644.6" y1="158.4" x2="1644.6" y2="228.9" stroke="#2a2a2a" stroke-width="1.6"/>
<rect x="1639.6" y="205.1" width="10" height="2.8" fill="#000"/>
<line x1="1659.0" y1="171.2" x2="1659.0" y2="238.6" stroke="#2a2a2a" stroke-width="1.6"/>
<rect x="1654.0" y="207.9" width="10" height="4.8" fill="#000"/>
<line x1="1673.3" y1="186.9" x2="1673.3" y2="272.1" stroke="#2a2a2a" stroke-width="1.6"/>
<rect x="1668.3" y="212.4" width="10" height="22.7" fill="#000"/>
<line x1="1687.7" y1="223.0" x2="1687.7" y2="296.9" stroke="#2a2a2a" stroke-width="1.6"/>
<rect x="1683.3" y="234.2" width="8.8" height="0.8" fill="#fff" stroke="#333" stroke-width="1.3"/>
<line x1="1702.1" y1="230.9" x2="1702.1" y2="350.3" stroke="#2a2a2a" stroke-width="1.6"/>
<rect x="1697.1" y="233.2" width="10" height="91.0" fill="#000"/>
<line x1="1716.5" y1="322.5" x2="1716.5" y2="377.3" stroke="#2a2a2a" stroke-width="1.6"/>
<rect x="1711.5" y="333.8" width="10" height="27.9" fill="#000"/>
<line x1="1730.9" y1="325.6" x2="1730.9" y2="390.7" stroke="#2a2a2a" stroke-width="1.6"/>
<rect x="1726.5" y="337.4" width="8.8" height="23.6" fill="#fff" stroke="#333" stroke-width="1.3"/>
<line x1="1745.3" y1="289.8" x2="1745.3" y2="350.3" stroke="#2a2a2a" stroke-width="1.6"/>
<rect x="1740.9" y="302.1" width="8.8" height="33.9" fill="#fff" stroke="#333" stroke-width="1.3"/>
<line x1="1759.7" y1="291.2" x2="1759.7" y2="321.9" stroke="#2a2a2a" stroke-width="1.6"/>
<rect x="1754.7" y="301.4" width="10" height="14.8" fill="#000"/>
<line x1="1774.1" y1="306.3" x2="1774.1" y2="348.1" stroke="#2a2a2a" stroke-width="1.6"/>
<rect x="1769.7" y="314.6" width="8.8" height="0.9" fill="#fff" stroke="#333" stroke-width="1.3"/>
<line x1="1788.5" y1="229.5" x2="1788.5" y2="322.5" stroke="#2a2a2a" stroke-width="1.6"/>
<rect x="1784.1" y="239.0" width="8.8" height="77.1" fill="#fff" stroke="#333" stroke-width="1.3"/>
<line x1="1802.8" y1="206.8" x2="1802.8" y2="258.5" stroke="#2a2a2a" stroke-width="1.6"/>
<rect x="1798.4" y="216.0" width="8.8" height="21.6" fill="#fff" stroke="#333" stroke-width="1.3"/>
<line x1="1817.2" y1="183.2" x2="1817.2" y2="255.9" stroke="#2a2a2a" stroke-width="1.6"/>
<rect x="1812.2" y="215.3" width="10" height="11.7" fill="#000"/>
<line x1="1831.6" y1="226.1" x2="1831.6" y2="284.9" stroke="#2a2a2a" stroke-width="1.6"/>
<rect x="1826.6" y="226.9" width="10" height="23.3" fill="#000"/>
<line x1="1846.0" y1="221.5" x2="1846.0" y2="267.0" stroke="#2a2a2a" stroke-width="1.6"/>
<rect x="1841.6" y="243.8" width="8.8" height="5.7" fill="#fff" stroke="#333" stroke-width="1.3"/>
<line x1="1860.4" y1="209.6" x2="1860.4" y2="262.2" stroke="#2a2a2a" stroke-width="1.6"/>
<rect x="1855.4" y="228.4" width="10" height="2.2" fill="#000"/>
<line x1="1874.8" y1="228.1" x2="1874.8" y2="358.9" stroke="#2a2a2a" stroke-width="1.6"/>
<rect x="1869.8" y="230.4" width="10" height="104.3" fill="#000"/>
<line x1="1889.2" y1="278.4" x2="1889.2" y2="349.5" stroke="#2a2a2a" stroke-width="1.6"/>
<rect x="1884.8" y="286.2" width="8.8" height="47.2" fill="#fff" stroke="#333" stroke-width="1.3"/>
<line x1="1903.6" y1="282.1" x2="1903.6" y2="398.7" stroke="#2a2a2a" stroke-width="1.6"/>
<rect x="1898.6" y="285.5" width="10" height="62.5" fill="#000"/>
<line x1="1918.0" y1="315.7" x2="1918.0" y2="361.2" stroke="#2a2a2a" stroke-width="1.6"/>
<rect x="1913.6" y="345.4" width="8.8" height="0.9" fill="#fff" stroke="#333" stroke-width="1.3"/>
<line x1="1932.4" y1="262.3" x2="1932.4" y2="397.9" stroke="#2a2a2a" stroke-width="1.6"/>
<rect x="1928.0" y="269.3" width="8.8" height="77.1" fill="#fff" stroke="#333" stroke-width="1.3"/>
<line x1="1946.8" y1="251.5" x2="1946.8" y2="307.2" stroke="#2a2a2a" stroke-width="1.6"/>
<rect x="1942.3" y="264.4" width="8.8" height="2.9" fill="#fff" stroke="#333" stroke-width="1.3"/>
<line x1="1961.1" y1="245.2" x2="1961.1" y2="290.7" stroke="#2a2a2a" stroke-width="1.6"/>
<rect x="1956.1" y="263.7" width="10" height="10.5" fill="#000"/>
<line x1="1975.5" y1="223.3" x2="1975.5" y2="283.6" stroke="#2a2a2a" stroke-width="1.6"/>
<rect x="1971.1" y="234.9" width="8.8" height="38.7" fill="#fff" stroke="#333" stroke-width="1.3"/>
<line x1="1989.9" y1="226.2" x2="1989.9" y2="282.8" stroke="#2a2a2a" stroke-width="1.6"/>
<rect x="1984.9" y="233.3" width="10" height="26.7" fill="#000"/>
<line x1="2004.3" y1="245.8" x2="2004.3" y2="345.6" stroke="#2a2a2a" stroke-width="1.6"/>
<rect x="1999.3" y="265.4" width="10" height="62.3" fill="#000"/>
<line x1="2018.7" y1="324.3" x2="2018.7" y2="396.8" stroke="#2a2a2a" stroke-width="1.6"/>
<rect x="2013.7" y="327.7" width="10" height="37.8" fill="#000"/>
<line x1="2033.1" y1="347.0" x2="2033.1" y2="416.4" stroke="#2a2a2a" stroke-width="1.6"/>
<rect x="2028.1" y="365.5" width="10" height="5.4" fill="#000"/>
<line x1="2047.5" y1="354.1" x2="2047.5" y2="568.5" stroke="#2a2a2a" stroke-width="1.6"/>
<rect x="2042.5" y="370.3" width="10" height="142.1" fill="#000"/>
<line x1="2061.9" y1="491.3" x2="2061.9" y2="553.8" stroke="#2a2a2a" stroke-width="1.6"/>
<rect x="2056.9" y="512.2" width="10" height="9.0" fill="#000"/>
<line x1="2076.3" y1="522.6" x2="2076.3" y2="634.0" stroke="#2a2a2a" stroke-width="1.6"/>
<rect x="2071.3" y="547.1" width="10" height="79.0" fill="#000"/>
<line x1="2090.7" y1="496.7" x2="2090.7" y2="632.0" stroke="#2a2a2a" stroke-width="1.6"/>
<rect x="2086.2" y="504.0" width="8.8" height="110.8" fill="#fff" stroke="#333" stroke-width="1.3"/>
<line x1="2105.0" y1="503.3" x2="2105.0" y2="526.0" stroke="#2a2a2a" stroke-width="1.6"/>
<rect x="2100.0" y="503.3" width="10" height="17.9" fill="#000"/>
</g>
<g style="mix-blend-mode:multiply">
<line x1="277" y1="631.8" x2="2207" y2="631.8" stroke="#f4a0a8" stroke-width="6.6" stroke-linecap="round" opacity="0.8" filter="url(#b1)"/>
<line x1="1171" y1="103.4" x2="2217" y2="254.8" stroke="#96cab9" stroke-width="6.6" stroke-linecap="round" opacity="0.92" filter="url(#b1)"/>
</g>
</g>
<path d="M319.8 545.0 C322.9 543.8 331.9 538.4 338.3 537.9 C344.7 537.4 352.5 538.0 358.2 542.0 C363.9 546.0 368.8 552.5 372.4 562.0 C375.9 571.5 380.0 586.7 379.5 599.0 C379.0 611.3 374.6 626.0 369.6 636.0 C364.6 646.0 357.3 653.2 349.7 658.7 C342.1 664.2 333.1 668.5 324.1 668.7 C315.1 668.9 304.2 664.5 295.7 660.0 C287.2 655.5 279.5 649.0 272.9 641.7 C266.3 634.4 259.9 625.5 255.9 616.0 C251.9 606.5 249.3 592.8 248.8 584.8 C248.3 576.8 249.7 571.7 253.0 567.7 C256.3 563.7 266.1 561.8 268.7 560.6" fill="none" stroke="#000" stroke-width="4.2" stroke-linecap="round" stroke-linejoin="round"/>
<path d="M2038.6 596.2 C2041.4 594.9 2050.0 590.8 2055.5 588.3 C2061.0 585.7 2066.1 582.8 2071.4 580.9 C2076.7 579.0 2081.4 577.8 2087.4 576.9 C2093.3 576.0 2100.6 574.9 2107.3 575.3 C2113.9 575.7 2121.2 577.0 2127.2 579.3 C2133.1 581.6 2138.3 584.9 2143.1 589.3 C2147.9 593.6 2153.2 599.9 2156.0 605.2 C2158.8 610.5 2160.0 615.5 2160.0 621.1 C2160.0 626.7 2158.2 633.4 2156.0 639.0 C2153.9 644.6 2150.9 649.6 2147.1 654.9 C2143.3 660.2 2138.1 666.4 2133.1 670.8 C2128.2 675.3 2122.9 679.1 2117.2 681.8 C2111.6 684.4 2104.9 686.8 2099.3 686.8 C2093.7 686.8 2088.4 684.8 2083.4 681.8 C2078.4 678.8 2073.4 674.3 2069.5 668.9 C2065.5 663.4 2062.2 655.9 2059.5 649.0 C2056.8 642.0 2054.5 633.7 2053.5 627.1 C2052.5 620.4 2052.7 614.8 2053.5 609.2 C2054.4 603.5 2056.0 597.7 2058.5 593.2 C2061.0 588.8 2065.0 584.6 2068.5 582.3 C2071.9 580.0 2075.8 579.1 2079.4 579.3 C2083.1 579.5 2088.5 582.6 2090.3 583.3" fill="none" stroke="#000" stroke-width="4.6" stroke-linecap="round" stroke-linejoin="round"/>
<path d="M2173.5 451.4 C2173.8 448.0 2174.1 438.6 2175.2 431.4 C2176.3 424.3 2178.3 414.9 2180.0 408.7 C2181.8 402.5 2184.1 397.4 2185.7 394.5 C2187.4 391.6 2188.3 390.6 2190.0 391.1 C2191.6 391.6 2193.1 392.5 2195.7 397.3 C2198.3 402.2 2202.2 412.3 2205.6 420.1 C2209.0 427.9 2214.4 440.2 2216.1 444.2" fill="none" stroke="#000" stroke-width="5" stroke-linecap="round" stroke-linejoin="round"/>
<path d="M2185.7 421.5 C2186.0 426.0 2186.4 437.8 2187.1 448.5 C2187.8 459.2 2188.8 473.6 2190.0 485.5 C2191.2 497.3 2193.0 511.3 2194.2 519.6 C2195.4 527.8 2196.4 530.8 2197.2 535.0 C2198.0 539.2 2198.5 542.4 2198.8 545.0 C2199.1 547.6 2198.9 549.5 2198.9 550.4" fill="none" stroke="#000" stroke-width="4.9" stroke-linecap="round" stroke-linejoin="round"/>
<rect x="3.1" y="801.8" width="2351.4" height="1.25" fill="#686868"/>
<rect x="3.1" y="803.0" width="2347.4" height="1.0" fill="#cdcdcd"/>
<rect x="3.1" y="804.0" width="2347.4" height="1.35" fill="#2c2c2c"/>
<rect x="3.1" y="1126.8" width="2351.4" height="1.25" fill="#343434"/>
<rect x="3.1" y="1128.0" width="2347.4" height="1.0" fill="#b6b6b6"/>
<rect x="3.1" y="1129.0" width="2347.4" height="1.35" fill="#585858"/>
<g clip-path="url(#cd)">
<line x1="4.5" y1="989.8" x2="2350.5" y2="989.8" stroke="#c0c0c0" stroke-width="1.2" stroke-dasharray="2.5,4.5"/>
<rect x="1.4" y="989.8" width="5.4" height="27.8" fill="#828282"/>
<rect x="15.8" y="989.8" width="5.4" height="15.5" fill="#828282"/>
<rect x="30.2" y="989.8" width="5.4" height="14.8" fill="#828282"/>
<rect x="44.6" y="989.8" width="5.4" height="16.3" fill="#828282"/>
<rect x="59.0" y="989.8" width="5.4" height="8.9" fill="#828282"/>
<rect x="87.7" y="985.2" width="5.4" height="4.6" fill="#828282"/>
<rect x="102.1" y="977.8" width="5.4" height="12.0" fill="#828282"/>
<rect x="116.5" y="974.1" width="5.4" height="15.7" fill="#828282"/>
<rect x="130.9" y="975.1" width="5.4" height="14.7" fill="#828282"/>
<rect x="145.3" y="983.9" width="5.4" height="5.9" fill="#828282"/>
<rect x="159.7" y="986.9" width="5.4" height="2.9" fill="#828282"/>
<rect x="174.1" y="989.8" width="5.4" height="4.0" fill="#828282"/>
<rect x="188.5" y="989.8" width="5.4" height="9.4" fill="#828282"/>
<rect x="202.9" y="989.8" width="5.4" height="16.3" fill="#828282"/>
<rect x="217.3" y="989.8" width="5.4" height="15.5" fill="#828282"/>
<rect x="231.6" y="989.8" width="5.4" height="11.8" fill="#828282"/>
<rect x="246.0" y="989.8" width="5.4" height="5.7" fill="#828282"/>
<rect x="260.4" y="988.6" width="5.4" height="1.2" fill="#828282"/>
<rect x="274.8" y="982.5" width="5.4" height="7.3" fill="#828282"/>
<rect x="289.2" y="983.9" width="5.4" height="5.9" fill="#828282"/>
<rect x="303.6" y="986.9" width="5.4" height="2.9" fill="#828282"/>
<rect x="318.0" y="986.9" width="5.4" height="2.9" fill="#828282"/>
<rect x="332.4" y="988.8" width="5.4" height="1.0" fill="#828282"/>
<rect x="346.8" y="986.9" width="5.4" height="2.9" fill="#828282"/>
<rect x="361.2" y="983.2" width="5.4" height="6.6" fill="#828282"/>
<rect x="375.5" y="967.2" width="5.4" height="22.6" fill="#828282"/>
<rect x="389.9" y="950.0" width="5.4" height="39.8" fill="#828282"/>
<rect x="404.3" y="945.6" width="5.4" height="44.2" fill="#828282"/>
<rect x="418.7" y="946.3" width="5.4" height="43.5" fill="#828282"/>
<rect x="433.1" y="940.9" width="5.4" height="48.9" fill="#828282"/>
<rect x="447.5" y="941.9" width="5.4" height="47.9" fill="#828282"/>
<rect x="461.9" y="951.7" width="5.4" height="38.1" fill="#828282"/>
<rect x="476.3" y="976.3" width="5.4" height="13.5" fill="#828282"/>
<rect x="490.7" y="989.8" width="5.4" height="5.0" fill="#828282"/>
<rect x="505.1" y="989.8" width="5.4" height="20.0" fill="#828282"/>
<rect x="519.4" y="989.8" width="5.4" height="32.8" fill="#828282"/>
<rect x="533.8" y="989.8" width="5.4" height="36.4" fill="#828282"/>
<rect x="548.2" y="989.8" width="5.4" height="40.9" fill="#828282"/>
<rect x="562.6" y="989.8" width="5.4" height="41.9" fill="#828282"/>
<rect x="577.0" y="989.8" width="5.4" height="28.3" fill="#828282"/>
<rect x="591.4" y="989.8" width="5.4" height="22.2" fill="#828282"/>
<rect x="605.8" y="989.8" width="5.4" height="18.0" fill="#828282"/>
<rect x="620.2" y="989.8" width="5.4" height="20.9" fill="#828282"/>
<rect x="634.6" y="989.8" width="5.4" height="20.0" fill="#828282"/>
<rect x="649.0" y="989.8" width="5.4" height="20.0" fill="#828282"/>
<rect x="663.3" y="989.8" width="5.4" height="24.1" fill="#828282"/>
<rect x="677.7" y="989.8" width="5.4" height="25.4" fill="#828282"/>
<rect x="692.1" y="989.8" width="5.4" height="27.8" fill="#828282"/>
<rect x="706.5" y="989.8" width="5.4" height="30.8" fill="#828282"/>
<rect x="720.9" y="989.8" width="5.4" height="24.1" fill="#828282"/>
<rect x="735.3" y="989.8" width="5.4" height="25.4" fill="#828282"/>
<rect x="749.7" y="989.8" width="5.4" height="22.9" fill="#828282"/>
<rect x="764.1" y="989.8" width="5.4" height="26.1" fill="#828282"/>
<rect x="778.5" y="989.8" width="5.4" height="32.8" fill="#828282"/>
<rect x="792.9" y="989.8" width="5.4" height="32.8" fill="#828282"/>
<rect x="807.2" y="989.8" width="5.4" height="26.1" fill="#828282"/>
<rect x="821.6" y="989.8" width="5.4" height="9.4" fill="#828282"/>
<rect x="850.4" y="984.4" width="5.4" height="5.4" fill="#828282"/>
<rect x="864.8" y="980.7" width="5.4" height="9.1" fill="#828282"/>
<rect x="879.2" y="970.9" width="5.4" height="18.9" fill="#828282"/>
<rect x="893.6" y="976.3" width="5.4" height="13.5" fill="#828282"/>
<rect x="908.0" y="978.3" width="5.4" height="11.5" fill="#828282"/>
<rect x="922.4" y="980.7" width="5.4" height="9.1" fill="#828282"/>
<rect x="936.8" y="978.3" width="5.4" height="11.5" fill="#828282"/>
<rect x="951.1" y="974.6" width="5.4" height="15.2" fill="#828282"/>
<rect x="965.5" y="984.4" width="5.4" height="5.4" fill="#828282"/>
<rect x="979.9" y="986.6" width="5.4" height="3.2" fill="#828282"/>
<rect x="1008.7" y="980.0" width="5.4" height="9.8" fill="#828282"/>
<rect x="1023.1" y="981.5" width="5.4" height="8.3" fill="#828282"/>
<rect x="1037.5" y="973.8" width="5.4" height="16.0" fill="#828282"/>
<rect x="1051.9" y="967.7" width="5.4" height="22.1" fill="#828282"/>
<rect x="1066.3" y="967.7" width="5.4" height="22.1" fill="#828282"/>
<rect x="1080.6" y="961.1" width="5.4" height="28.7" fill="#828282"/>
<rect x="1095.0" y="960.3" width="5.4" height="29.5" fill="#828282"/>
<rect x="1109.4" y="958.6" width="5.4" height="31.2" fill="#828282"/>
<rect x="1123.8" y="958.6" width="5.4" height="31.2" fill="#828282"/>
<rect x="1138.2" y="956.6" width="5.4" height="33.2" fill="#828282"/>
<rect x="1152.6" y="955.6" width="5.4" height="34.2" fill="#828282"/>
<rect x="1167.0" y="961.1" width="5.4" height="28.7" fill="#828282"/>
<rect x="1181.4" y="956.6" width="5.4" height="33.2" fill="#828282"/>
<rect x="1195.8" y="951.9" width="5.4" height="37.9" fill="#828282"/>
<rect x="1210.2" y="948.3" width="5.4" height="41.5" fill="#828282"/>
<rect x="1224.5" y="952.9" width="5.4" height="36.9" fill="#828282"/>
<rect x="1238.9" y="945.6" width="5.4" height="44.2" fill="#828282"/>
<rect x="1253.3" y="953.7" width="5.4" height="36.1" fill="#828282"/>
<rect x="1267.7" y="965.2" width="5.4" height="24.6" fill="#828282"/>
<rect x="1282.1" y="981.5" width="5.4" height="8.3" fill="#828282"/>
<rect x="1296.5" y="989.8" width="5.4" height="8.2" fill="#828282"/>
<rect x="1310.9" y="989.8" width="5.4" height="29.1" fill="#828282"/>
<rect x="1325.3" y="989.8" width="5.4" height="43.8" fill="#828282"/>
<rect x="1339.7" y="989.8" width="5.4" height="50.5" fill="#828282"/>
<rect x="1354.1" y="989.8" width="5.4" height="60.3" fill="#828282"/>
<rect x="1368.4" y="989.8" width="5.4" height="56.9" fill="#828282"/>
<rect x="1382.8" y="989.8" width="5.4" height="45.8" fill="#828282"/>
<rect x="1397.2" y="989.8" width="5.4" height="45.1" fill="#828282"/>
<rect x="1411.6" y="989.8" width="5.4" height="36.0" fill="#828282"/>
<rect x="1426.0" y="989.8" width="5.4" height="25.4" fill="#828282"/>
<rect x="1440.4" y="989.8" width="5.4" height="23.7" fill="#828282"/>
<rect x="1454.8" y="989.8" width="5.4" height="24.1" fill="#828282"/>
<rect x="1469.2" y="989.8" width="5.4" height="20.9" fill="#828282"/>
<rect x="1483.6" y="989.8" width="5.4" height="26.1" fill="#828282"/>
<rect x="1498.0" y="989.8" width="5.4" height="20.9" fill="#828282"/>
<rect x="1512.3" y="989.8" width="5.4" height="5.7" fill="#828282"/>
<rect x="1526.7" y="988.4" width="5.4" height="1.4" fill="#828282"/>
<rect x="1541.1" y="988.8" width="5.4" height="1.0" fill="#828282"/>
<rect x="1555.5" y="979.5" width="5.4" height="10.3" fill="#828282"/>
<rect x="1569.9" y="975.8" width="5.4" height="14.0" fill="#828282"/>
<rect x="1584.3" y="970.2" width="5.4" height="19.6" fill="#828282"/>
<rect x="1598.7" y="966.5" width="5.4" height="23.3" fill="#828282"/>
<rect x="1613.1" y="956.9" width="5.4" height="32.9" fill="#828282"/>
<rect x="1627.5" y="957.4" width="5.4" height="32.4" fill="#828282"/>
<rect x="1641.9" y="959.1" width="5.4" height="30.7" fill="#828282"/>
<rect x="1656.2" y="962.8" width="5.4" height="27.0" fill="#828282"/>
<rect x="1670.6" y="970.2" width="5.4" height="19.6" fill="#828282"/>
<rect x="1685.0" y="976.3" width="5.4" height="13.5" fill="#828282"/>
<rect x="1699.4" y="989.8" width="5.4" height="1.3" fill="#828282"/>
<rect x="1713.8" y="989.8" width="5.4" height="17.3" fill="#828282"/>
<rect x="1728.2" y="989.8" width="5.4" height="23.4" fill="#828282"/>
<rect x="1742.6" y="989.8" width="5.4" height="22.9" fill="#828282"/>
<rect x="1757.0" y="989.8" width="5.4" height="22.9" fill="#828282"/>
<rect x="1771.4" y="989.8" width="5.4" height="21.7" fill="#828282"/>
<rect x="1785.8" y="989.8" width="5.4" height="10.6" fill="#828282"/>
<rect x="1814.5" y="987.0" width="5.4" height="2.8" fill="#828282"/>
<rect x="1828.9" y="988.4" width="5.4" height="1.4" fill="#828282"/>
<rect x="1843.3" y="988.4" width="5.4" height="1.4" fill="#828282"/>
<rect x="1857.7" y="985.7" width="5.4" height="4.1" fill="#828282"/>
<rect x="1872.1" y="989.8" width="5.4" height="8.2" fill="#828282"/>
<rect x="1886.5" y="989.8" width="5.4" height="10.1" fill="#828282"/>
<rect x="1900.9" y="989.8" width="5.4" height="17.9" fill="#828282"/>
<rect x="1915.3" y="989.8" width="5.4" height="22.7" fill="#828282"/>
<rect x="1929.7" y="989.8" width="5.4" height="14.8" fill="#828282"/>
<rect x="1944.0" y="989.8" width="5.4" height="8.2" fill="#828282"/>
<rect x="1958.4" y="989.8" width="5.4" height="6.1" fill="#828282"/>
<rect x="1987.2" y="988.9" width="5.4" height="0.9" fill="#828282"/>
<rect x="2001.6" y="989.8" width="5.4" height="6.1" fill="#828282"/>
<rect x="2016.0" y="989.8" width="5.4" height="15.6" fill="#828282"/>
<rect x="2030.4" y="989.8" width="5.4" height="20.8" fill="#828282"/>
<rect x="2044.8" y="989.8" width="5.4" height="41.5" fill="#828282"/>
<rect x="2059.2" y="989.8" width="5.4" height="53.3" fill="#828282"/>
<rect x="2073.6" y="989.8" width="5.4" height="71.1" fill="#828282"/>
<rect x="2088.0" y="989.8" width="5.4" height="62.5" fill="#828282"/>
<rect x="2102.3" y="989.8" width="5.4" height="55.4" fill="#828282"/>
<polyline points="4.2,922.9 18.5,926.6 33.0,931.0 47.2,935.2 61.7,937.2 76.0,936.9 90.5,935.7 104.8,933.3 119.3,929.8 133.6,926.1 148.1,924.2 162.4,924.2 176.9,924.6 191.1,927.3 205.7,931.5 219.9,936.0 234.4,938.9 248.7,940.1 263.2,940.1 277.5,938.4 292.0,936.9 306.3,935.7 320.8,935.2 335.1,935.7 349.6,935.2 363.8,933.5 378.4,928.6 392.6,919.2 407.1,906.9 421.4,894.6 435.9,881.1 450.2,870.0 464.7,862.7 479.0,859.7 493.5,860.2 507.7,865.1 522.3,873.7 536.5,883.6 551.0,894.6 565.3,904.5 579.8,910.6 594.1,916.0 608.6,922.4 622.9,927.3 637.4,932.8 651.7,936.9 666.2,943.8 680.4,951.7 695.0,959.1 709.2,966.0 723.7,972.1 738.0,978.8 752.5,983.9 766.8,990.1 781.3,999.2 795.6,1006.6 810.1,1013.5 824.4,1015.7 838.9,1015.7 853.1,1013.9 867.7,1012.2 881.9,1006.6 896.4,1004.1 910.7,1000.4 925.2,998.4 939.5,995.0 954.0,991.3 968.3,990.6 982.8,990.1 997.0,988.8 1011.6,985.7 1025.8,984.4 1040.3,981.2 1054.6,974.1 1069.1,967.9 1083.4,961.8 1097.9,954.9 1112.2,946.8 1126.7,938.4 1141.0,930.3 1155.5,921.7 1169.7,914.8 1184.3,906.9 1198.5,895.9 1213.0,886.5 1227.3,877.4 1241.8,867.1 1256.1,857.7 1270.6,851.6 1284.9,849.9 1299.4,851.6 1313.7,859.5 1328.2,870.0 1342.4,882.3 1356.9,898.3 1371.2,913.1 1385.7,924.6 1400.0,936.0 1414.5,944.3 1428.8,950.7 1443.3,957.4 1457.6,963.5 1472.1,968.9 1486.3,975.8 1500.9,981.2 1515.1,982.5 1529.6,982.0 1543.9,981.2 1558.4,979.0 1572.7,975.1 1587.2,969.7 1601.5,964.7 1616.0,956.6 1630.3,948.8 1644.8,940.6 1659.0,934.0 1673.6,928.6 1687.8,925.9 1702.3,925.4 1716.6,929.8 1731.1,936.0 1745.4,942.1 1759.9,948.8 1774.2,954.2 1788.7,956.1 1802.9,956.6 1817.3,955.3 1831.7,954.8 1846.1,954.8 1860.3,953.5 1874.7,955.3 1889.1,958.0 1903.5,962.7 1917.9,969.2 1932.3,973.2 1946.7,975.8 1961.1,976.3 1975.5,975.8 1989.9,976.3 2004.4,976.6 2018.8,981.0 2033.2,987.6 2047.6,998.0 2062.0,1011.1 2076.4,1028.2 2090.8,1043.9 2105.0,1059.1" fill="none" stroke="#ff0000" stroke-width="1.9" stroke-linejoin="round" stroke-linecap="butt" />
<polyline points="4.2,951.9 18.5,943.3 33.0,945.1 47.2,951.2 61.7,947.0 76.0,938.9 90.5,931.5 104.8,921.7 119.3,914.3 133.6,911.9 148.1,920.0 162.4,920.5 176.9,929.1 191.1,937.7 205.7,948.8 219.9,951.7 234.4,951.7 248.7,947.0 263.2,940.1 277.5,929.8 292.0,930.3 306.3,933.5 320.8,933.5 335.1,936.5 349.6,932.0 363.8,927.8 378.4,903.2 392.6,878.6 407.1,862.7 421.4,852.8 435.9,835.6 450.2,824.0 464.7,825.0 479.0,846.7 493.5,867.6 507.7,887.3 522.3,908.2 536.5,920.5 551.0,934.0 565.3,945.6 579.8,940.1 594.1,939.4 608.6,938.9 622.9,948.8 637.4,953.2 651.7,957.4 666.2,968.9 680.4,976.5 695.0,985.7 709.2,996.0 723.7,996.0 738.0,1003.6 752.5,1005.8 766.8,1016.4 781.3,1031.9 795.6,1039.8 810.1,1039.8 824.4,1026.2 838.9,1015.2 853.1,1009.0 867.7,1002.4 881.9,988.8 896.4,989.3 910.7,988.8 925.2,988.8 939.5,984.4 954.0,977.5 968.3,984.9 982.8,986.4 997.0,986.4 1011.6,977.0 1025.8,977.0 1040.3,963.5 1054.6,951.7 1069.1,946.8 1083.4,933.5 1097.9,925.4 1112.2,915.5 1126.7,906.9 1141.0,897.1 1155.5,887.3 1169.7,886.0 1184.3,873.2 1198.5,857.7 1213.0,844.9 1227.3,840.5 1241.8,821.6 1256.1,821.6 1270.6,825.8 1284.9,840.5 1299.4,859.5 1313.7,888.5 1328.2,914.3 1342.4,934.0 1356.9,959.1 1371.2,970.2 1385.7,970.2 1400.0,980.7 1414.5,981.2 1428.8,977.5 1443.3,982.0 1457.6,987.6 1472.1,990.1 1486.3,1001.6 1500.9,1001.6 1515.1,988.1 1529.6,979.5 1543.9,979.5 1558.4,968.4 1572.7,960.6 1587.2,950.7 1601.5,941.4 1616.0,924.6 1630.3,916.0 1644.8,909.9 1659.0,907.4 1673.6,908.7 1687.8,911.9 1702.3,929.1 1716.6,948.8 1731.1,961.5 1745.4,966.0 1759.9,970.9 1774.2,975.3 1788.7,967.2 1802.9,958.0 1817.3,952.2 1831.7,951.7 1846.1,951.7 1860.3,949.6 1874.7,964.8 1889.1,968.7 1903.5,981.5 1917.9,991.0 1932.3,987.6 1946.7,984.2 1961.1,983.6 1975.5,975.3 1989.9,975.3 2004.4,984.2 2018.8,998.0 2033.2,1007.2 2047.6,1038.7 2062.0,1063.5 2076.4,1100.2 2090.8,1108.1 2105.0,1114.6" fill="none" stroke="#10108a" stroke-width="1.9" stroke-linejoin="round" stroke-linecap="butt" />
</g>
<g clip-path="url(#cr)">
<line x1="4.5" y1="1204.0" x2="2350.5" y2="1204.0" stroke="#c8c8c8" stroke-width="1.2" stroke-dasharray="2.5,4.5"/>
<line x1="4.5" y1="1303.7" x2="2350.5" y2="1303.7" stroke="#c8c8c8" stroke-width="1.2" stroke-dasharray="2.5,4.5"/>
<polyline points="4.1,1241.3 18.5,1232.1 32.9,1247.1 47.3,1251.3 61.7,1239.6 76.0,1231.8 90.4,1231.3 104.8,1224.5 119.2,1224.3 133.6,1229.3 148.0,1245.8 162.4,1238.3 176.8,1250.1 191.2,1250.1 205.6,1258.8 220.0,1248.1 234.3,1241.3 248.7,1234.3 263.1,1228.8 277.5,1223.8 291.9,1237.6 306.3,1241.8 320.7,1235.6 335.1,1242.1 349.5,1230.8 363.9,1226.3 378.2,1203.0 392.6,1193.8 407.0,1200.8 421.4,1205.0 435.8,1195.5 450.2,1195.5 464.6,1213.0 479.0,1247.6 493.4,1249.6 507.8,1254.3 522.1,1260.6 536.5,1253.8 550.9,1259.6 565.3,1258.3 579.7,1234.6 594.1,1240.1 608.5,1241.3 622.9,1254.3 637.3,1250.6 651.7,1250.1 666.0,1263.8 680.4,1260.8 694.8,1266.8 709.2,1272.6 723.6,1256.3 738.0,1268.3 752.4,1263.8 766.8,1274.3 781.2,1285.6 795.6,1277.6 809.9,1267.1 824.3,1244.3 838.7,1244.3 853.1,1250.6 867.5,1247.6 881.9,1233.1 896.3,1255.8 910.7,1253.1 925.1,1254.3 939.5,1244.3 953.8,1240.1 968.2,1263.8 982.6,1255.6 997.0,1253.8 1011.4,1238.8 1025.8,1249.3 1040.2,1233.8 1054.6,1230.1 1069.0,1237.1 1083.3,1225.1 1097.7,1228.1 1112.1,1222.5 1126.5,1222.0 1140.9,1216.8 1155.3,1212.5 1169.7,1223.3 1184.1,1209.3 1198.5,1203.3 1212.9,1199.5 1227.2,1210.0 1241.6,1195.5 1256.0,1218.3 1270.4,1224.5 1284.8,1238.8 1299.2,1247.6 1313.6,1264.3 1328.0,1266.8 1342.4,1265.8 1356.8,1275.8 1371.1,1261.3 1385.5,1251.3 1399.9,1262.1 1414.3,1253.8 1428.7,1246.8 1443.1,1256.3 1457.5,1260.6 1471.9,1256.3 1486.3,1269.3 1500.7,1255.8 1515.0,1239.3 1529.4,1243.1 1543.8,1250.1 1558.2,1238.1 1572.6,1238.1 1587.0,1232.6 1601.4,1231.3 1615.8,1219.5 1630.2,1226.8 1644.6,1227.1 1659.0,1228.1 1673.3,1235.1 1687.7,1235.1 1702.1,1261.3 1716.5,1270.1 1730.9,1263.1 1745.3,1253.8 1759.7,1256.8 1774.1,1256.8 1788.5,1236.3 1802.8,1231.1 1817.2,1235.0 1831.6,1242.1 1846.0,1240.8 1860.4,1237.7 1874.8,1268.6 1889.2,1254.7 1903.6,1269.1 1918.0,1269.1 1932.4,1247.4 1946.8,1247.4 1961.1,1249.4 1975.5,1239.8 1989.9,1246.8 2004.3,1265.2 2018.7,1274.3 2033.1,1274.9 2047.5,1300.0 2061.9,1300.0 2076.3,1314.2 2090.7,1281.7 2105.0,1283.5" fill="none" stroke="#000" stroke-width="1.8" stroke-linejoin="round" stroke-linecap="butt" />
</g>
<path d="M2069.9 1247.6 C2066.8 1249.0 2055.9 1253.3 2051.5 1256.0 C2047.1 1258.7 2047.2 1259.5 2043.7 1263.9 C2040.2 1268.3 2033.4 1275.2 2030.6 1282.2 C2027.8 1289.2 2026.4 1297.9 2026.6 1305.8 C2026.8 1313.7 2029.1 1322.2 2031.9 1329.4 C2034.8 1336.6 2038.7 1344.1 2043.7 1349.0 C2048.7 1353.9 2056.3 1357.2 2062.0 1359.0 C2067.7 1360.8 2071.1 1361.0 2077.7 1359.5 C2084.2 1358.0 2094.3 1354.0 2101.3 1349.8 C2108.3 1345.6 2114.6 1341.1 2119.6 1334.6 C2124.6 1328.1 2130.3 1318.4 2131.4 1311.0 C2132.5 1303.6 2129.5 1295.7 2126.2 1290.0 C2122.9 1284.3 2118.1 1281.1 2111.8 1277.0 C2105.5 1272.9 2096.1 1268.4 2088.2 1265.2 C2080.3 1262.0 2072.0 1259.5 2064.6 1258.1 C2057.2 1256.6 2049.7 1256.5 2043.7 1256.5 C2037.7 1256.5 2031.2 1257.6 2028.7 1257.8" fill="none" stroke="#000" stroke-width="5.2" stroke-linecap="round" stroke-linejoin="round"/>
<path d="M2119.6 1334.6 C2121.6 1330.7 2130.3 1318.4 2131.4 1311.0 C2132.5 1303.6 2129.5 1295.7 2126.2 1290.0 C2122.9 1284.3 2118.1 1281.1 2111.8 1277.0 C2105.5 1272.9 2092.1 1267.2 2088.2 1265.2" fill="none" stroke="#000" stroke-width="6.6" stroke-linecap="round" stroke-linejoin="round"/>
<rect x="0" y="0" width="2.0" height="1407" fill="#9c9c9c"/>
<rect x="3.1" y="0" width="1.6" height="1383" fill="#727272"/>
<rect x="2349.8" y="0" width="1.4" height="1379" fill="#444"/>
<rect x="2348.7" y="282" width="3" height="223" fill="#000"/>
<rect x="3.1" y="1377.9" width="2351.4" height="1.4" fill="#444"/>
<linearGradient id="rg" x1="0" x2="1" y1="0" y2="0"><stop offset="0" stop-color="#fff"/><stop offset="0.6" stop-color="#e2e2e2"/><stop offset="1" stop-color="#cfcfcf"/></linearGradient>
<rect x="2435" y="0" width="4" height="1407" fill="url(#rg)"/>
<rect x="2437.8" y="37" width="1.2" height="54" fill="#7c88b2"/>
<rect x="2437.8" y="884" width="1.2" height="55" fill="#aab2d2"/>
<path d="M2096 0 L2114 0 L2105 9 Z" fill="#c6c6c6"/>
<rect x="2350.5" y="50.0" width="4.5" height="1.3" fill="#444"/>
<text transform="translate(2354.7,57.5) scale(1.025,1)" text-anchor="start" fill="#000" stroke="#000" stroke-width="0.45">115.150</text>
<rect x="2350.5" y="107.9" width="4.5" height="1.3" fill="#444"/>
<text transform="translate(2354.7,115.3) scale(1.025,1)" text-anchor="start" fill="#000" stroke="#000" stroke-width="0.45">114.665</text>
<rect x="2350.5" y="165.8" width="4.5" height="1.3" fill="#444"/>
<text transform="translate(2354.7,173.2) scale(1.025,1)" text-anchor="start" fill="#000" stroke="#000" stroke-width="0.45">114.180</text>
<rect x="2350.5" y="223.6" width="4.5" height="1.3" fill="#444"/>
<text transform="translate(2354.7,231.1) scale(1.025,1)" text-anchor="start" fill="#000" stroke="#000" stroke-width="0.45">113.695</text>
<rect x="2350.5" y="281.5" width="4.5" height="1.3" fill="#444"/>
<text transform="translate(2354.7,289.0) scale(1.025,1)" text-anchor="start" fill="#000" stroke="#000" stroke-width="0.45">113.210</text>
<rect x="2350.5" y="339.4" width="4.5" height="1.3" fill="#444"/>
<text transform="translate(2354.7,346.9) scale(1.025,1)" text-anchor="start" fill="#000" stroke="#000" stroke-width="0.45">112.725</text>
<rect x="2350.5" y="397.3" width="4.5" height="1.3" fill="#444"/>
<text transform="translate(2354.7,404.7) scale(1.025,1)" text-anchor="start" fill="#000" stroke="#000" stroke-width="0.45">112.240</text>
<rect x="2350.5" y="455.2" width="4.5" height="1.3" fill="#444"/>
<text transform="translate(2354.7,462.6) scale(1.025,1)" text-anchor="start" fill="#000" stroke="#000" stroke-width="0.45">111.755</text>
<rect x="2350.5" y="513.0" width="4.5" height="1.3" fill="#444"/>
<text transform="translate(2354.7,520.5) scale(1.025,1)" text-anchor="start" fill="#000" stroke="#000" stroke-width="0.45">111.270</text>
<rect x="2350.5" y="570.9" width="4.5" height="1.3" fill="#444"/>
<text transform="translate(2354.7,578.4) scale(1.025,1)" text-anchor="start" fill="#000" stroke="#000" stroke-width="0.45">110.785</text>
<rect x="2350.5" y="628.8" width="4.5" height="1.3" fill="#444"/>
<text transform="translate(2354.7,636.2) scale(1.025,1)" text-anchor="start" fill="#000" stroke="#000" stroke-width="0.45">110.300</text>
<rect x="2350.5" y="686.7" width="4.5" height="1.3" fill="#444"/>
<text transform="translate(2354.7,694.1) scale(1.025,1)" text-anchor="start" fill="#000" stroke="#000" stroke-width="0.45">109.815</text>
<rect x="2350.5" y="744.6" width="4.5" height="1.3" fill="#444"/>
<text transform="translate(2354.7,752.0) scale(1.025,1)" text-anchor="start" fill="#000" stroke="#000" stroke-width="0.45">109.330</text>
<rect x="2352" y="511.4" width="70.8" height="20" fill="#c0c0c0"/>
<text transform="translate(2357.6,527.9) scale(1.025,1)" text-anchor="start" fill="#fff" stroke="#fff" stroke-width="0.45">111.208</text>
<text transform="translate(2354.7,821.9) scale(1.025,1)" text-anchor="start" fill="#000" stroke="#000" stroke-width="0.45">0.7861</text>
<text transform="translate(2354.7,996.7) scale(1.025,1)" text-anchor="start" fill="#000" stroke="#000" stroke-width="0.45">0.0000</text>
<text transform="translate(2354.7,1124.3) scale(1.025,1)" text-anchor="start" fill="#000" stroke="#000" stroke-width="0.45">-0.5832</text>
<rect x="2350.5" y="989.2" width="4.5" height="1.3" fill="#444"/>
<text transform="translate(2354.7,1146.7) scale(1.025,1)" text-anchor="start" fill="#000" stroke="#000" stroke-width="0.45">100.00</text>
<text transform="translate(2354.7,1211.4) scale(1.025,1)" text-anchor="start" fill="#000" stroke="#000" stroke-width="0.45">70.00</text>
<text transform="translate(2354.7,1311.5) scale(1.025,1)" text-anchor="start" fill="#000" stroke="#000" stroke-width="0.45">30.00</text>
<text transform="translate(2354.7,1375.2) scale(1.025,1)" text-anchor="start" fill="#000" stroke="#000" stroke-width="0.45">0.00</text>
<rect x="2350.5" y="1203.4" width="4.5" height="1.3" fill="#444"/>
<rect x="2350.5" y="1303.1" width="4.5" height="1.3" fill="#444"/>
<rect x="3.6" y="1378" width="1.4" height="5" fill="#444"/>
<text transform="translate(3.8,1399.0) scale(1.020,1)" text-anchor="start" fill="#000" stroke="#000" stroke-width="0.45">5 Jun 2018</text>
<rect x="118.7" y="1378" width="1.4" height="5" fill="#444"/>
<text transform="translate(118.9,1399.0) scale(1.020,1)" text-anchor="start" fill="#000" stroke="#000" stroke-width="0.45">15 Jun 2018</text>
<rect x="233.8" y="1378" width="1.4" height="5" fill="#444"/>
<text transform="translate(234.0,1399.0) scale(1.020,1)" text-anchor="start" fill="#000" stroke="#000" stroke-width="0.45">27 Jun 2018</text>
<rect x="349.0" y="1378" width="1.4" height="5" fill="#444"/>
<text transform="translate(349.2,1399.0) scale(1.020,1)" text-anchor="start" fill="#000" stroke="#000" stroke-width="0.45">9 Jul 2018</text>
<rect x="464.1" y="1378" width="1.4" height="5" fill="#444"/>
<text transform="translate(464.3,1399.0) scale(1.020,1)" text-anchor="start" fill="#000" stroke="#000" stroke-width="0.45">19 Jul 2018</text>
<rect x="579.2" y="1378" width="1.4" height="5" fill="#444"/>
<text transform="translate(579.4,1399.0) scale(1.020,1)" text-anchor="start" fill="#000" stroke="#000" stroke-width="0.45">31 Jul 2018</text>
<rect x="694.3" y="1378" width="1.4" height="5" fill="#444"/>
<text transform="translate(694.5,1399.0) scale(1.020,1)" text-anchor="start" fill="#000" stroke="#000" stroke-width="0.45">10 Aug 2018</text>
<rect x="809.4" y="1378" width="1.4" height="5" fill="#444"/>
<text transform="translate(809.6,1399.0) scale(1.020,1)" text-anchor="start" fill="#000" stroke="#000" stroke-width="0.45">22 Aug 2018</text>
<rect x="924.6" y="1378" width="1.4" height="5" fill="#444"/>
<text transform="translate(924.8,1399.0) scale(1.020,1)" text-anchor="start" fill="#000" stroke="#000" stroke-width="0.45">3 Sep 2018</text>
<rect x="1039.7" y="1378" width="1.4" height="5" fill="#444"/>
<text transform="translate(1039.9,1399.0) scale(1.020,1)" text-anchor="start" fill="#000" stroke="#000" stroke-width="0.45">13 Sep 2018</text>
<rect x="1154.8" y="1378" width="1.4" height="5" fill="#444"/>
<text transform="translate(1155.0,1399.0) scale(1.020,1)" text-anchor="start" fill="#000" stroke="#000" stroke-width="0.45">25 Sep 2018</text>
<rect x="1269.9" y="1378" width="1.4" height="5" fill="#444"/>
<text transform="translate(1270.1,1399.0) scale(1.020,1)" text-anchor="start" fill="#000" stroke="#000" stroke-width="0.45">5 Oct 2018</text>
<rect x="1385.0" y="1378" width="1.4" height="5" fill="#444"/>
<text transform="translate(1385.2,1399.0) scale(1.020,1)" text-anchor="start" fill="#000" stroke="#000" stroke-width="0.45">17 Oct 2018</text>
<rect x="1500.2" y="1378" width="1.4" height="5" fill="#444"/>
<text transform="translate(1500.4,1399.0) scale(1.020,1)" text-anchor="start" fill="#000" stroke="#000" stroke-width="0.45">29 Oct 2018</text>
<rect x="1615.3" y="1378" width="1.4" height="5" fill="#444"/>
<text transform="translate(1615.5,1399.0) scale(1.020,1)" text-anchor="start" fill="#000" stroke="#000" stroke-width="0.45">8 Nov 2018</text>
<rect x="1730.4" y="1378" width="1.4" height="5" fill="#444"/>
<text transform="translate(1730.6,1399.0) scale(1.020,1)" text-anchor="start" fill="#000" stroke="#000" stroke-width="0.45">20 Nov 2018</text>
<rect x="1845.5" y="1378" width="1.4" height="5" fill="#444"/>
<text transform="translate(1845.7,1399.0) scale(1.020,1)" text-anchor="start" fill="#000" stroke="#000" stroke-width="0.45">30 Nov 2018</text>
<rect x="1960.6" y="1378" width="1.4" height="5" fill="#444"/>
<text transform="translate(1960.8,1399.0) scale(1.020,1)" text-anchor="start" fill="#000" stroke="#000" stroke-width="0.45">12 Dec 2018</text>
<rect x="2075.8" y="1378" width="1.4" height="5" fill="#444"/>
<text transform="translate(2076.0,1399.0) scale(1.020,1)" text-anchor="start" fill="#000" stroke="#000" stroke-width="0.45">24 Dec 2018</text>
<rect x="5" y="808" width="549" height="20.4" fill="#fff"/>
<text x="79.0" y="22.7" text-anchor="start" fill="#000" stroke="#000" stroke-width="0.45" textLength="98.6" lengthAdjust="spacingAndGlyphs" font-size="16.9">USDJPY,Daily</text>
<text x="6.6" y="825.3" text-anchor="start" fill="#000" stroke="#000" stroke-width="0.45" textLength="546.0" lengthAdjust="spacingAndGlyphs" font-size="16.9">TraditionalMACD(12,26,9) -0.5294 -0.2923 0.0000 0.0000 -0.2372 0.0000</text>
<text x="7.0" y="1149.6" text-anchor="start" fill="#000" stroke="#000" stroke-width="0.45" textLength="104.0" lengthAdjust="spacingAndGlyphs" font-size="16.9">RSI(14) 37.79</text>
<g filter="url(#b0)">
<rect x="8" y="5" width="25.5" height="22.5" rx="2" fill="#f4f4f4" stroke="#8a8a8a" stroke-width="1.6"/>
<rect x="8.5" y="4.6" width="24.5" height="3.8" rx="1.5" fill="#7d80f2"/>
<rect x="11.2" y="12.5" width="8.6" height="2" fill="#f08a84"/>
<rect x="22" y="12.5" width="8.6" height="2" fill="#8c8cf6"/>
<rect x="11.2" y="15.7" width="8.6" height="2" fill="#f08a84"/>
<rect x="22" y="15.7" width="8.6" height="2" fill="#8c8cf6"/>
<rect x="11.2" y="18.9" width="8.6" height="2" fill="#f08a84"/>
<rect x="22" y="18.9" width="8.6" height="2" fill="#8c8cf6"/>
<rect x="11.2" y="22.1" width="8.6" height="2" fill="#f08a84"/>
<rect x="22" y="22.1" width="8.6" height="2" fill="#8c8cf6"/>
<path d="M40.5 6.2 h5.2 q1.3 0 1.3 1.5 v5.6 h3 q1.6 0 1.6 1.6 v10 q0 1.5 -1.5 1.5 h-9.6 q-1.4 0 -1.4 -1.4 v-17.3 q0 -1.5 1.4 -1.5 z" fill="#3a3ae8"/>
<path d="M60.2 6.2 h4.8 q1.4 0 1.4 1.5 v17.3 q0 1.4 -1.4 1.4 h-9.6 q-1.5 0 -1.5 -1.5 v-8.6 q0 -1.6 1.6 -1.6 h3.3 v-7 q0 -1.5 1.4 -1.5 z" fill="#c8403c"/>
<rect x="48.5" y="6.7" width="8.8" height="1.5" fill="#8a8a8a"/><rect x="48.5" y="9.3" width="8.8" height="1.5" fill="#8a8a8a"/>
<rect x="41.5" y="23" width="8" height="1" fill="#8c8cf4"/><rect x="56.5" y="23" width="8" height="1" fill="#e08884"/>
</g>
</svg>
</body></html>
